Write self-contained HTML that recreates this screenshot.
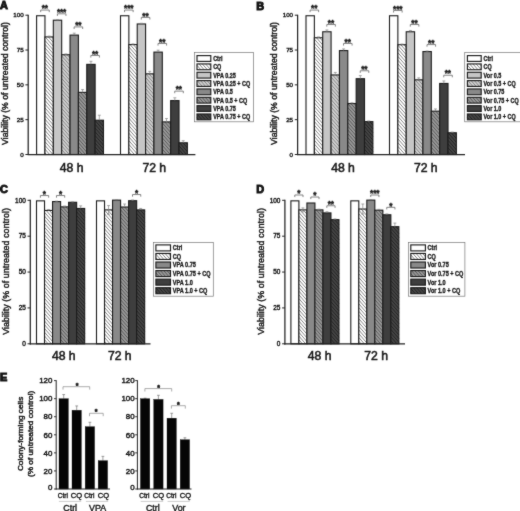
<!DOCTYPE html>
<html lang="en"><head><meta charset="utf-8"><title>Figure</title>
<style>html,body{margin:0;padding:0;background:#fff;}svg{display:block;font-family:'Liberation Sans', Arial, sans-serif;fill:#1a1a1a;}</style></head><body>
<svg width="520" height="511" viewBox="0 0 520 511">
<defs>
<filter id="soft" x="0" y="0" width="100%" height="100%" filterUnits="userSpaceOnUse" color-interpolation-filters="sRGB"><feConvolveMatrix order="3" kernelMatrix="1 3 1 3 30 3 1 3 1" divisor="46" edgeMode="duplicate" preserveAlpha="true"/></filter>
</defs>
<g filter="url(#soft)">
<rect x="-5" y="-5" width="530" height="521" fill="#fff" stroke="none"/>
<rect x="36.6" y="15.75" width="8.36" height="138.75" fill="#ffffff" stroke="none" stroke-width="0"/>
<rect x="36.6" y="15.75" width="8.36" height="138.75" fill="none" stroke="#1c1c1c" stroke-width="1.1"/>
<rect x="44.96" y="36.92" width="8.36" height="117.58" fill="#ffffff" stroke="none" stroke-width="0"/>
<path d="M44.96 152.85L46.39 154.5M44.96 149.1L49.66 154.5M44.96 145.36L52.91 154.5M44.96 141.61L53.32 151.22M44.96 137.86L53.32 147.47M44.96 134.11L53.32 143.72M44.96 130.37L53.32 139.98M44.96 126.62L53.32 136.23M44.96 122.87L53.32 132.48M44.96 119.13L53.32 128.74M44.96 115.38L53.32 124.99M44.96 111.63L53.32 121.24M44.96 107.89L53.32 117.49M44.96 104.14L53.32 113.75M44.96 100.39L53.32 110M44.96 96.64L53.32 106.25M44.96 92.9L53.32 102.51M44.96 89.15L53.32 98.76M44.96 85.4L53.32 95.01M44.96 81.66L53.32 91.26M44.96 77.91L53.32 87.52M44.96 74.16L53.32 83.77M44.96 70.41L53.32 80.02M44.96 66.67L53.32 76.28M44.96 62.92L53.32 72.53M44.96 59.17L53.32 68.78M44.96 55.43L53.32 65.03M44.96 51.68L53.32 61.29M44.96 47.93L53.32 57.54M44.96 44.18L53.32 53.79M44.96 40.44L53.32 50.05M45.16 36.92L53.32 46.3M48.42 36.92L53.32 42.55M51.68 36.92L53.32 38.8" fill="none" stroke="#8a8a8a" stroke-width="1"/>
<rect x="44.96" y="36.92" width="8.36" height="117.58" fill="none" stroke="#1c1c1c" stroke-width="1.1"/>
<line x1="49.14" y1="36.92" x2="49.14" y2="36.09" stroke="#858585" stroke-width="0.7"/>
<line x1="47.64" y1="36.09" x2="50.64" y2="36.09" stroke="#858585" stroke-width="0.7"/>
<rect x="53.32" y="20.21" width="8.36" height="134.29" fill="#c6c6c6" stroke="none" stroke-width="0"/>
<rect x="53.32" y="20.21" width="8.36" height="134.29" fill="none" stroke="#1c1c1c" stroke-width="1.1"/>
<line x1="57.5" y1="20.21" x2="57.5" y2="19.79" stroke="#858585" stroke-width="0.7"/>
<line x1="56" y1="19.79" x2="59" y2="19.79" stroke="#858585" stroke-width="0.7"/>
<rect x="61.68" y="54.75" width="8.36" height="99.75" fill="#cecece" stroke="none" stroke-width="0"/>
<path d="M61.68 153.33L62.69 154.5M61.68 149.59L65.95 154.5M61.68 145.84L69.22 154.5M61.68 142.09L70.04 151.7M61.68 138.34L70.04 147.95M61.68 134.6L70.04 144.21M61.68 130.85L70.04 140.46M61.68 127.1L70.04 136.71M61.68 123.36L70.04 132.97M61.68 119.61L70.04 129.22M61.68 115.86L70.04 125.47M61.68 112.11L70.04 121.72M61.68 108.37L70.04 117.98M61.68 104.62L70.04 114.23M61.68 100.87L70.04 110.48M61.68 97.13L70.04 106.74M61.68 93.38L70.04 102.99M61.68 89.63L70.04 99.24M61.68 85.89L70.04 95.49M61.68 82.14L70.04 91.75M61.68 78.39L70.04 88M61.68 74.64L70.04 84.25M61.68 70.9L70.04 80.51M61.68 67.15L70.04 76.76M61.68 63.4L70.04 73.01M61.68 59.66L70.04 69.26M61.68 55.91L70.04 65.52M63.94 54.75L70.04 61.77M67.2 54.75L70.04 58.02" fill="none" stroke="#8a8a8a" stroke-width="1"/>
<rect x="61.68" y="54.75" width="8.36" height="99.75" fill="none" stroke="#1c1c1c" stroke-width="1.1"/>
<line x1="65.86" y1="54.75" x2="65.86" y2="53.92" stroke="#858585" stroke-width="0.7"/>
<line x1="64.36" y1="53.92" x2="67.36" y2="53.92" stroke="#858585" stroke-width="0.7"/>
<rect x="70.04" y="35.11" width="8.36" height="119.39" fill="#898989" stroke="none" stroke-width="0"/>
<rect x="70.04" y="35.11" width="8.36" height="119.39" fill="none" stroke="#1c1c1c" stroke-width="1.1"/>
<line x1="74.22" y1="35.11" x2="74.22" y2="33.16" stroke="#858585" stroke-width="0.7"/>
<line x1="72.72" y1="33.16" x2="75.72" y2="33.16" stroke="#858585" stroke-width="0.7"/>
<rect x="78.4" y="92.36" width="8.36" height="62.14" fill="#969696" stroke="none" stroke-width="0"/>
<path d="M78.4 153.82L79 154.5M78.4 150.07L82.25 154.5M78.4 146.32L85.51 154.5M78.4 142.57L86.76 152.18M78.4 138.83L86.76 148.44M78.4 135.08L86.76 144.69M78.4 131.33L86.76 140.94M78.4 127.59L86.76 137.2M78.4 123.84L86.76 133.45M78.4 120.09L86.76 129.7M78.4 116.34L86.76 125.95M78.4 112.6L86.76 122.21M78.4 108.85L86.76 118.46M78.4 105.1L86.76 114.71M78.4 101.36L86.76 110.97M78.4 97.61L86.76 107.22M78.4 93.86L86.76 103.47M80.36 92.36L86.76 99.72M83.62 92.36L86.76 95.98" fill="none" stroke="#5e5e5e" stroke-width="1"/>
<rect x="78.4" y="92.36" width="8.36" height="62.14" fill="none" stroke="#1c1c1c" stroke-width="1.1"/>
<line x1="82.58" y1="92.36" x2="82.58" y2="89.58" stroke="#858585" stroke-width="0.7"/>
<line x1="81.08" y1="89.58" x2="84.08" y2="89.58" stroke="#858585" stroke-width="0.7"/>
<rect x="86.76" y="64.37" width="8.36" height="90.13" fill="#3e3e3e" stroke="none" stroke-width="0"/>
<rect x="86.76" y="64.37" width="8.36" height="90.13" fill="none" stroke="#1c1c1c" stroke-width="1.1"/>
<line x1="90.94" y1="64.37" x2="90.94" y2="61.3" stroke="#858585" stroke-width="0.7"/>
<line x1="89.44" y1="61.3" x2="92.44" y2="61.3" stroke="#858585" stroke-width="0.7"/>
<rect x="95.12" y="120.22" width="8.36" height="34.28" fill="#444444" stroke="none" stroke-width="0"/>
<path d="M95.12 154.3L95.29 154.5M95.12 150.55L98.55 154.5M95.12 146.8L101.81 154.5M95.12 143.06L103.48 152.67M95.12 139.31L103.48 148.92M95.12 135.56L103.48 145.17M95.12 131.82L103.48 141.43M95.12 128.07L103.48 137.68M95.12 124.32L103.48 133.93M95.12 120.57L103.48 130.18M98.08 120.22L103.48 126.44M101.34 120.22L103.48 122.69" fill="none" stroke="#262626" stroke-width="1"/>
<rect x="95.12" y="120.22" width="8.36" height="34.28" fill="none" stroke="#1c1c1c" stroke-width="1.1"/>
<line x1="99.3" y1="120.22" x2="99.3" y2="115.21" stroke="#858585" stroke-width="0.7"/>
<line x1="97.8" y1="115.21" x2="100.8" y2="115.21" stroke="#858585" stroke-width="0.7"/>
<rect x="120.5" y="15.75" width="8.36" height="138.75" fill="#ffffff" stroke="none" stroke-width="0"/>
<rect x="120.5" y="15.75" width="8.36" height="138.75" fill="none" stroke="#1c1c1c" stroke-width="1.1"/>
<rect x="128.86" y="44.59" width="8.36" height="109.91" fill="#ffffff" stroke="none" stroke-width="0"/>
<path d="M128.86 151.86L131.16 154.5M128.86 148.11L134.41 154.5M128.86 144.37L137.22 153.98M128.86 140.62L137.22 150.23M128.86 136.87L137.22 146.48M128.86 133.13L137.22 142.74M128.86 129.38L137.22 138.99M128.86 125.63L137.22 135.24M128.86 121.89L137.22 131.49M128.86 118.14L137.22 127.75M128.86 114.39L137.22 124M128.86 110.64L137.22 120.25M128.86 106.9L137.22 116.51M128.86 103.15L137.22 112.76M128.86 99.4L137.22 109.01M128.86 95.66L137.22 105.26M128.86 91.91L137.22 101.52M128.86 88.16L137.22 97.77M128.86 84.41L137.22 94.02M128.86 80.67L137.22 90.28M128.86 76.92L137.22 86.53M128.86 73.17L137.22 82.78M128.86 69.43L137.22 79.03M128.86 65.68L137.22 75.29M128.86 61.93L137.22 71.54M128.86 58.18L137.22 67.79M128.86 54.44L137.22 64.05M128.86 50.69L137.22 60.3M128.86 46.94L137.22 56.55M130.07 44.59L137.22 52.8M133.33 44.59L137.22 49.06M136.59 44.59L137.22 45.31" fill="none" stroke="#8a8a8a" stroke-width="1"/>
<rect x="128.86" y="44.59" width="8.36" height="109.91" fill="none" stroke="#1c1c1c" stroke-width="1.1"/>
<line x1="133.04" y1="44.59" x2="133.04" y2="43.89" stroke="#858585" stroke-width="0.7"/>
<line x1="131.54" y1="43.89" x2="134.54" y2="43.89" stroke="#858585" stroke-width="0.7"/>
<rect x="137.22" y="23.97" width="8.36" height="130.53" fill="#c6c6c6" stroke="none" stroke-width="0"/>
<rect x="137.22" y="23.97" width="8.36" height="130.53" fill="none" stroke="#1c1c1c" stroke-width="1.1"/>
<line x1="141.4" y1="23.97" x2="141.4" y2="23.27" stroke="#858585" stroke-width="0.7"/>
<line x1="139.9" y1="23.27" x2="142.9" y2="23.27" stroke="#858585" stroke-width="0.7"/>
<rect x="145.58" y="73.84" width="8.36" height="80.66" fill="#cecece" stroke="none" stroke-width="0"/>
<path d="M145.58 152.34L147.45 154.5M145.58 148.6L150.71 154.5M145.58 144.85L153.94 154.46M145.58 141.1L153.94 150.71M145.58 137.36L153.94 146.97M145.58 133.61L153.94 143.22M145.58 129.86L153.94 139.47M145.58 126.11L153.94 135.72M145.58 122.37L153.94 131.98M145.58 118.62L153.94 128.23M145.58 114.87L153.94 124.48M145.58 111.13L153.94 120.74M145.58 107.38L153.94 116.99M145.58 103.63L153.94 113.24M145.58 99.89L153.94 109.49M145.58 96.14L153.94 105.75M145.58 92.39L153.94 102M145.58 88.64L153.94 98.25M145.58 84.9L153.94 94.51M145.58 81.15L153.94 90.76M145.58 77.4L153.94 87.01M145.74 73.84L153.94 83.26M149 73.84L153.94 79.52M152.26 73.84L153.94 75.77" fill="none" stroke="#8a8a8a" stroke-width="1"/>
<rect x="145.58" y="73.84" width="8.36" height="80.66" fill="none" stroke="#1c1c1c" stroke-width="1.1"/>
<line x1="149.76" y1="73.84" x2="149.76" y2="71.33" stroke="#858585" stroke-width="0.7"/>
<line x1="148.26" y1="71.33" x2="151.26" y2="71.33" stroke="#858585" stroke-width="0.7"/>
<rect x="153.94" y="52.11" width="8.36" height="102.39" fill="#898989" stroke="none" stroke-width="0"/>
<rect x="153.94" y="52.11" width="8.36" height="102.39" fill="none" stroke="#1c1c1c" stroke-width="1.1"/>
<line x1="158.12" y1="52.11" x2="158.12" y2="50.16" stroke="#858585" stroke-width="0.7"/>
<line x1="156.62" y1="50.16" x2="159.62" y2="50.16" stroke="#858585" stroke-width="0.7"/>
<rect x="162.3" y="121.9" width="8.36" height="32.6" fill="#969696" stroke="none" stroke-width="0"/>
<path d="M162.3 152.83L163.75 154.5M162.3 149.08L167.01 154.5M162.3 145.33L170.27 154.5M162.3 141.59L170.66 151.2M162.3 137.84L170.66 147.45M162.3 134.09L170.66 143.7M162.3 130.34L170.66 139.95M162.3 126.6L170.66 136.21M162.3 122.85L170.66 132.46M164.73 121.9L170.66 128.71M167.99 121.9L170.66 124.97" fill="none" stroke="#5e5e5e" stroke-width="1"/>
<rect x="162.3" y="121.9" width="8.36" height="32.6" fill="none" stroke="#1c1c1c" stroke-width="1.1"/>
<line x1="166.48" y1="121.9" x2="166.48" y2="118.55" stroke="#858585" stroke-width="0.7"/>
<line x1="164.98" y1="118.55" x2="167.98" y2="118.55" stroke="#858585" stroke-width="0.7"/>
<rect x="170.66" y="100.58" width="8.36" height="53.92" fill="#3e3e3e" stroke="none" stroke-width="0"/>
<rect x="170.66" y="100.58" width="8.36" height="53.92" fill="none" stroke="#1c1c1c" stroke-width="1.1"/>
<line x1="174.84" y1="100.58" x2="174.84" y2="97.8" stroke="#858585" stroke-width="0.7"/>
<line x1="173.34" y1="97.8" x2="176.34" y2="97.8" stroke="#858585" stroke-width="0.7"/>
<rect x="179.02" y="142.79" width="8.36" height="11.71" fill="#444444" stroke="none" stroke-width="0"/>
<path d="M179.02 153.31L180.06 154.5M179.02 149.56L183.31 154.5M179.02 145.82L186.57 154.5M179.65 142.79L187.38 151.68M182.91 142.79L187.38 147.93M186.17 142.79L187.38 144.18" fill="none" stroke="#262626" stroke-width="1"/>
<rect x="179.02" y="142.79" width="8.36" height="11.71" fill="none" stroke="#1c1c1c" stroke-width="1.1"/>
<line x1="183.2" y1="142.79" x2="183.2" y2="140.7" stroke="#858585" stroke-width="0.7"/>
<line x1="181.7" y1="140.7" x2="184.7" y2="140.7" stroke="#858585" stroke-width="0.7"/>
<line x1="28.2" y1="14.75" x2="28.2" y2="155.1" stroke="#222" stroke-width="1.25"/>
<line x1="27.6" y1="154.5" x2="195.4" y2="154.5" stroke="#222" stroke-width="1.25"/>
<line x1="25.4" y1="154.5" x2="28.2" y2="154.5" stroke="#222" stroke-width="1"/>
<text x="23.7" y="156.7" font-size="6.25" text-anchor="end" font-weight="normal" stroke="#1a1a1a" stroke-width="0.4">0</text>
<line x1="25.4" y1="119.67" x2="28.2" y2="119.67" stroke="#222" stroke-width="1"/>
<text x="23.7" y="121.88" font-size="6.25" text-anchor="end" font-weight="normal" stroke="#1a1a1a" stroke-width="0.4">25</text>
<line x1="25.4" y1="84.85" x2="28.2" y2="84.85" stroke="#222" stroke-width="1"/>
<text x="23.7" y="87.05" font-size="6.25" text-anchor="end" font-weight="normal" stroke="#1a1a1a" stroke-width="0.4">50</text>
<line x1="25.4" y1="50.03" x2="28.2" y2="50.03" stroke="#222" stroke-width="1"/>
<text x="23.7" y="52.23" font-size="6.25" text-anchor="end" font-weight="normal" stroke="#1a1a1a" stroke-width="0.4">75</text>
<line x1="25.4" y1="15.2" x2="28.2" y2="15.2" stroke="#222" stroke-width="1"/>
<text x="23.7" y="17.4" font-size="6.25" text-anchor="end" font-weight="normal" stroke="#1a1a1a" stroke-width="0.4">100</text>
<text x="71.6" y="171.5" font-size="12.2" text-anchor="middle" font-weight="normal" stroke="#1a1a1a" stroke-width="0.55">48 h</text>
<text x="154.3" y="171.5" font-size="12.2" text-anchor="middle" font-weight="normal" stroke="#1a1a1a" stroke-width="0.55">72 h</text>
<text transform="translate(8 83.5) rotate(-90) scale(1.06 1)" font-size="8.2" text-anchor="middle" stroke="#1a1a1a" stroke-width="0.42">Viability (% of untreated control)</text>
<text transform="translate(0 8.9) scale(1.08 1)" font-size="10.1" font-weight="bold" stroke="#111" stroke-width="0.9">A</text>
<path d="M40.68 12.15 V10.05 H49.24 V12.15" fill="none" stroke="#666" stroke-width="0.8"/>
<text x="44.81" y="11.25" font-size="8.2" text-anchor="middle" font-weight="bold" stroke="#1a1a1a" stroke-width="0.4" letter-spacing="-0.1">**</text>
<path d="M57.4 15.91 V13.81 H65.96 V15.91" fill="none" stroke="#666" stroke-width="0.8"/>
<text x="61.53" y="15.01" font-size="8.2" text-anchor="middle" font-weight="bold" stroke="#1a1a1a" stroke-width="0.4" letter-spacing="-0.1">***</text>
<path d="M74.12 29 V26.9 H82.68 V29" fill="none" stroke="#666" stroke-width="0.8"/>
<text x="78.25" y="28.1" font-size="8.2" text-anchor="middle" font-weight="bold" stroke="#1a1a1a" stroke-width="0.4" letter-spacing="-0.1">**</text>
<path d="M90.84 57.56 V55.46 H99.4 V57.56" fill="none" stroke="#666" stroke-width="0.8"/>
<text x="94.97" y="56.66" font-size="8.2" text-anchor="middle" font-weight="bold" stroke="#1a1a1a" stroke-width="0.4" letter-spacing="-0.1">**</text>
<path d="M124.58 12.15 V10.05 H133.14 V12.15" fill="none" stroke="#666" stroke-width="0.8"/>
<text x="128.71" y="11.25" font-size="8.2" text-anchor="middle" font-weight="bold" stroke="#1a1a1a" stroke-width="0.4" letter-spacing="-0.1">***</text>
<path d="M141.3 19.53 V17.43 H149.86 V19.53" fill="none" stroke="#666" stroke-width="0.8"/>
<text x="145.43" y="18.63" font-size="8.2" text-anchor="middle" font-weight="bold" stroke="#1a1a1a" stroke-width="0.4" letter-spacing="-0.1">**</text>
<path d="M158.02 45.58 V43.48 H166.58 V45.58" fill="none" stroke="#666" stroke-width="0.8"/>
<text x="162.15" y="44.68" font-size="8.2" text-anchor="middle" font-weight="bold" stroke="#1a1a1a" stroke-width="0.4" letter-spacing="-0.1">**</text>
<path d="M174.74 93.22 V91.12 H183.3 V93.22" fill="none" stroke="#666" stroke-width="0.8"/>
<text x="178.87" y="92.32" font-size="8.2" text-anchor="middle" font-weight="bold" stroke="#1a1a1a" stroke-width="0.4" letter-spacing="-0.1">**</text>
<rect x="194.4" y="52.4" width="59" height="69.4" fill="#fff" stroke="#777" stroke-width="0.7"/>
<rect x="197" y="55.6" width="13.8" height="5.8" fill="#ffffff" stroke="none" stroke-width="0"/>
<rect x="197" y="55.6" width="13.8" height="5.8" fill="none" stroke="#1c1c1c" stroke-width="1.15"/>
<text transform="translate(213.2 60.9) scale(0.8 1)" font-size="6.8" font-weight="bold" stroke="#1a1a1a" stroke-width="0.35">Ctrl</text>
<rect x="197" y="63.94" width="13.8" height="5.8" fill="#ffffff" stroke="none" stroke-width="0"/>
<path d="M197 69.06L197.59 69.74M197 65.31L200.85 69.74M199.07 63.94L204.11 69.74M202.33 63.94L207.37 69.74M205.59 63.94L210.63 69.74M208.85 63.94L210.8 66.18" fill="none" stroke="#8a8a8a" stroke-width="1"/>
<rect x="197" y="63.94" width="13.8" height="5.8" fill="none" stroke="#1c1c1c" stroke-width="1.15"/>
<text transform="translate(213.2 69.24) scale(0.8 1)" font-size="6.8" font-weight="bold" stroke="#1a1a1a" stroke-width="0.35">CQ</text>
<rect x="197" y="72.28" width="13.8" height="5.8" fill="#c6c6c6" stroke="none" stroke-width="0"/>
<rect x="197" y="72.28" width="13.8" height="5.8" fill="none" stroke="#1c1c1c" stroke-width="1.15"/>
<text transform="translate(213.2 77.58) scale(0.8 1)" font-size="6.8" font-weight="bold" stroke="#1a1a1a" stroke-width="0.35">VPA 0.25</text>
<rect x="197" y="80.62" width="13.8" height="5.8" fill="#cecece" stroke="none" stroke-width="0"/>
<path d="M197 84.05L199.07 86.42M197.28 80.62L202.33 86.42M200.54 80.62L205.59 86.42M203.8 80.62L208.85 86.42M207.06 80.62L210.8 84.92M210.32 80.62L210.8 81.17" fill="none" stroke="#8a8a8a" stroke-width="1"/>
<rect x="197" y="80.62" width="13.8" height="5.8" fill="none" stroke="#1c1c1c" stroke-width="1.15"/>
<text transform="translate(213.2 85.92) scale(0.8 1)" font-size="6.8" font-weight="bold" stroke="#1a1a1a" stroke-width="0.35">VPA 0.25 + CQ</text>
<rect x="197" y="88.96" width="13.8" height="5.8" fill="#898989" stroke="none" stroke-width="0"/>
<rect x="197" y="88.96" width="13.8" height="5.8" fill="none" stroke="#1c1c1c" stroke-width="1.15"/>
<text transform="translate(213.2 94.26) scale(0.8 1)" font-size="6.8" font-weight="bold" stroke="#1a1a1a" stroke-width="0.35">VPA 0.5</text>
<rect x="197" y="97.3" width="13.8" height="5.8" fill="#969696" stroke="none" stroke-width="0"/>
<path d="M197 102.78L197.28 103.1M197 99.03L200.54 103.1M198.75 97.3L203.8 103.1M202.01 97.3L207.06 103.1M205.27 97.3L210.32 103.1M208.53 97.3L210.8 99.91" fill="none" stroke="#5e5e5e" stroke-width="1"/>
<rect x="197" y="97.3" width="13.8" height="5.8" fill="none" stroke="#1c1c1c" stroke-width="1.15"/>
<text transform="translate(213.2 102.6) scale(0.8 1)" font-size="6.8" font-weight="bold" stroke="#1a1a1a" stroke-width="0.35">VPA 0.5 + CQ</text>
<rect x="197" y="105.64" width="13.8" height="5.8" fill="#3e3e3e" stroke="none" stroke-width="0"/>
<rect x="197" y="105.64" width="13.8" height="5.8" fill="none" stroke="#1c1c1c" stroke-width="1.15"/>
<text transform="translate(213.2 110.94) scale(0.8 1)" font-size="6.8" font-weight="bold" stroke="#1a1a1a" stroke-width="0.35">VPA 0.75</text>
<rect x="197" y="113.98" width="13.8" height="5.8" fill="#444444" stroke="none" stroke-width="0"/>
<path d="M197 117.77L198.75 119.78M197 114.02L202.01 119.78M200.22 113.98L205.27 119.78M203.48 113.98L208.53 119.78M206.74 113.98L210.8 118.64M210 113.98L210.8 114.9" fill="none" stroke="#262626" stroke-width="1"/>
<rect x="197" y="113.98" width="13.8" height="5.8" fill="none" stroke="#1c1c1c" stroke-width="1.15"/>
<text transform="translate(213.2 119.28) scale(0.8 1)" font-size="6.8" font-weight="bold" stroke="#1a1a1a" stroke-width="0.35">VPA 0.75 + CQ</text>
<rect x="306" y="15.75" width="8.36" height="138.75" fill="#ffffff" stroke="none" stroke-width="0"/>
<rect x="306" y="15.75" width="8.36" height="138.75" fill="none" stroke="#1c1c1c" stroke-width="1.1"/>
<rect x="314.36" y="37.76" width="8.36" height="116.74" fill="#ffffff" stroke="none" stroke-width="0"/>
<path d="M314.36 151.49L316.98 154.5M314.36 147.75L320.24 154.5M314.36 144L322.72 153.61M314.36 140.25L322.72 149.86M314.36 136.51L322.72 146.11M314.36 132.76L322.72 142.37M314.36 129.01L322.72 138.62M314.36 125.26L322.72 134.87M314.36 121.52L322.72 131.13M314.36 117.77L322.72 127.38M314.36 114.02L322.72 123.63M314.36 110.28L322.72 119.89M314.36 106.53L322.72 116.14M314.36 102.78L322.72 112.39M314.36 99.03L322.72 108.64M314.36 95.29L322.72 104.9M314.36 91.54L322.72 101.15M314.36 87.79L322.72 97.4M314.36 84.05L322.72 93.66M314.36 80.3L322.72 89.91M314.36 76.55L322.72 86.16M314.36 72.8L322.72 82.41M314.36 69.06L322.72 78.67M314.36 65.31L322.72 74.92M314.36 61.56L322.72 71.17M314.36 57.82L322.72 67.43M314.36 54.07L322.72 63.68M314.36 50.32L322.72 59.93M314.36 46.57L322.72 56.18M314.36 42.83L322.72 52.44M314.36 39.08L322.72 48.69M316.47 37.76L322.72 44.94M319.73 37.76L322.72 41.2" fill="none" stroke="#8a8a8a" stroke-width="1"/>
<rect x="314.36" y="37.76" width="8.36" height="116.74" fill="none" stroke="#1c1c1c" stroke-width="1.1"/>
<line x1="318.54" y1="37.76" x2="318.54" y2="36.92" stroke="#858585" stroke-width="0.7"/>
<line x1="317.04" y1="36.92" x2="320.04" y2="36.92" stroke="#858585" stroke-width="0.7"/>
<rect x="322.72" y="31.77" width="8.36" height="122.73" fill="#c6c6c6" stroke="none" stroke-width="0"/>
<rect x="322.72" y="31.77" width="8.36" height="122.73" fill="none" stroke="#1c1c1c" stroke-width="1.1"/>
<line x1="326.9" y1="31.77" x2="326.9" y2="29.96" stroke="#858585" stroke-width="0.7"/>
<line x1="325.4" y1="29.96" x2="328.4" y2="29.96" stroke="#858585" stroke-width="0.7"/>
<rect x="331.08" y="74.95" width="8.36" height="79.55" fill="#cecece" stroke="none" stroke-width="0"/>
<path d="M331.08 151.98L333.27 154.5M331.08 148.23L336.53 154.5M331.08 144.48L339.44 154.09M331.08 140.74L339.44 150.34M331.08 136.99L339.44 146.6M331.08 133.24L339.44 142.85M331.08 129.49L339.44 139.1M331.08 125.75L339.44 135.36M331.08 122L339.44 131.61M331.08 118.25L339.44 127.86M331.08 114.51L339.44 124.11M331.08 110.76L339.44 120.37M331.08 107.01L339.44 116.62M331.08 103.26L339.44 112.87M331.08 99.52L339.44 109.13M331.08 95.77L339.44 105.38M331.08 92.02L339.44 101.63M331.08 88.28L339.44 97.89M331.08 84.53L339.44 94.14M331.08 80.78L339.44 90.39M331.08 77.03L339.44 86.64M332.53 74.95L339.44 82.9M335.79 74.95L339.44 79.15M339.05 74.95L339.44 75.4" fill="none" stroke="#8a8a8a" stroke-width="1"/>
<rect x="331.08" y="74.95" width="8.36" height="79.55" fill="none" stroke="#1c1c1c" stroke-width="1.1"/>
<line x1="335.26" y1="74.95" x2="335.26" y2="72.45" stroke="#858585" stroke-width="0.7"/>
<line x1="333.76" y1="72.45" x2="336.76" y2="72.45" stroke="#858585" stroke-width="0.7"/>
<rect x="339.44" y="50.58" width="8.36" height="103.92" fill="#898989" stroke="none" stroke-width="0"/>
<rect x="339.44" y="50.58" width="8.36" height="103.92" fill="none" stroke="#1c1c1c" stroke-width="1.1"/>
<line x1="343.62" y1="50.58" x2="343.62" y2="48.9" stroke="#858585" stroke-width="0.7"/>
<line x1="342.12" y1="48.9" x2="345.12" y2="48.9" stroke="#858585" stroke-width="0.7"/>
<rect x="347.8" y="103.51" width="8.36" height="50.99" fill="#969696" stroke="none" stroke-width="0"/>
<path d="M347.8 152.46L349.57 154.5M347.8 148.71L352.83 154.5M347.8 144.97L356.09 154.5M347.8 141.22L356.16 150.83M347.8 137.47L356.16 147.08M347.8 133.72L356.16 143.33M347.8 129.98L356.16 139.59M347.8 126.23L356.16 135.84M347.8 122.48L356.16 132.09M347.8 118.74L356.16 128.34M347.8 114.99L356.16 124.6M347.8 111.24L356.16 120.85M347.8 107.49L356.16 117.1M347.8 103.75L356.16 113.36M350.85 103.51L356.16 109.61M354.11 103.51L356.16 105.86" fill="none" stroke="#5e5e5e" stroke-width="1"/>
<rect x="347.8" y="103.51" width="8.36" height="50.99" fill="none" stroke="#1c1c1c" stroke-width="1.1"/>
<line x1="351.98" y1="103.51" x2="351.98" y2="102.81" stroke="#858585" stroke-width="0.7"/>
<line x1="350.48" y1="102.81" x2="353.48" y2="102.81" stroke="#858585" stroke-width="0.7"/>
<rect x="356.16" y="78.71" width="8.36" height="75.79" fill="#3e3e3e" stroke="none" stroke-width="0"/>
<rect x="356.16" y="78.71" width="8.36" height="75.79" fill="none" stroke="#1c1c1c" stroke-width="1.1"/>
<line x1="360.34" y1="78.71" x2="360.34" y2="75.65" stroke="#858585" stroke-width="0.7"/>
<line x1="358.84" y1="75.65" x2="361.84" y2="75.65" stroke="#858585" stroke-width="0.7"/>
<rect x="364.52" y="121.62" width="8.36" height="32.88" fill="#444444" stroke="none" stroke-width="0"/>
<path d="M364.52 152.94L365.88 154.5M364.52 149.2L369.13 154.5M364.52 145.45L372.39 154.5M364.52 141.7L372.88 151.31M364.52 137.95L372.88 147.56M364.52 134.21L372.88 143.82M364.52 130.46L372.88 140.07M364.52 126.71L372.88 136.32M364.52 122.97L372.88 132.57M366.61 121.62L372.88 128.83M369.87 121.62L372.88 125.08" fill="none" stroke="#262626" stroke-width="1"/>
<rect x="364.52" y="121.62" width="8.36" height="32.88" fill="none" stroke="#1c1c1c" stroke-width="1.1"/>
<line x1="368.7" y1="121.62" x2="368.7" y2="120.92" stroke="#858585" stroke-width="0.7"/>
<line x1="367.2" y1="120.92" x2="370.2" y2="120.92" stroke="#858585" stroke-width="0.7"/>
<rect x="389.5" y="15.75" width="8.36" height="138.75" fill="#ffffff" stroke="none" stroke-width="0"/>
<rect x="389.5" y="15.75" width="8.36" height="138.75" fill="none" stroke="#1c1c1c" stroke-width="1.1"/>
<rect x="397.86" y="44.72" width="8.36" height="109.78" fill="#ffffff" stroke="none" stroke-width="0"/>
<path d="M397.86 153.79L398.48 154.5M397.86 150.05L401.74 154.5M397.86 146.3L405 154.5M397.86 142.55L406.22 152.16M397.86 138.8L406.22 148.41M397.86 135.06L406.22 144.67M397.86 131.31L406.22 140.92M397.86 127.56L406.22 137.17M397.86 123.82L406.22 133.43M397.86 120.07L406.22 129.68M397.86 116.32L406.22 125.93M397.86 112.57L406.22 122.18M397.86 108.83L406.22 118.44M397.86 105.08L406.22 114.69M397.86 101.33L406.22 110.94M397.86 97.59L406.22 107.2M397.86 93.84L406.22 103.45M397.86 90.09L406.22 99.7M397.86 86.34L406.22 95.95M397.86 82.6L406.22 92.21M397.86 78.85L406.22 88.46M397.86 75.1L406.22 84.71M397.86 71.36L406.22 80.97M397.86 67.61L406.22 77.22M397.86 63.86L406.22 73.47M397.86 60.11L406.22 69.72M397.86 56.37L406.22 65.98M397.86 52.62L406.22 62.23M397.86 48.87L406.22 58.48M397.86 45.13L406.22 54.74M400.77 44.72L406.22 50.99M404.03 44.72L406.22 47.24" fill="none" stroke="#8a8a8a" stroke-width="1"/>
<rect x="397.86" y="44.72" width="8.36" height="109.78" fill="none" stroke="#1c1c1c" stroke-width="1.1"/>
<line x1="402.04" y1="44.72" x2="402.04" y2="44.03" stroke="#858585" stroke-width="0.7"/>
<line x1="400.54" y1="44.03" x2="403.54" y2="44.03" stroke="#858585" stroke-width="0.7"/>
<rect x="406.22" y="31.77" width="8.36" height="122.73" fill="#c6c6c6" stroke="none" stroke-width="0"/>
<rect x="406.22" y="31.77" width="8.36" height="122.73" fill="none" stroke="#1c1c1c" stroke-width="1.1"/>
<line x1="410.4" y1="31.77" x2="410.4" y2="30.52" stroke="#858585" stroke-width="0.7"/>
<line x1="408.9" y1="30.52" x2="411.9" y2="30.52" stroke="#858585" stroke-width="0.7"/>
<rect x="414.58" y="79.83" width="8.36" height="74.67" fill="#cecece" stroke="none" stroke-width="0"/>
<path d="M414.58 154.28L414.77 154.5M414.58 150.53L418.03 154.5M414.58 146.78L421.29 154.5M414.58 143.03L422.94 152.64M414.58 139.29L422.94 148.9M414.58 135.54L422.94 145.15M414.58 131.79L422.94 141.4M414.58 128.05L422.94 137.66M414.58 124.3L422.94 133.91M414.58 120.55L422.94 130.16M414.58 116.8L422.94 126.41M414.58 113.06L422.94 122.67M414.58 109.31L422.94 118.92M414.58 105.56L422.94 115.17M414.58 101.82L422.94 111.43M414.58 98.07L422.94 107.68M414.58 94.32L422.94 103.93M414.58 90.57L422.94 100.18M414.58 86.83L422.94 96.44M414.58 83.08L422.94 92.69M415.01 79.83L422.94 88.94M418.27 79.83L422.94 85.2M421.53 79.83L422.94 81.45" fill="none" stroke="#8a8a8a" stroke-width="1"/>
<rect x="414.58" y="79.83" width="8.36" height="74.67" fill="none" stroke="#1c1c1c" stroke-width="1.1"/>
<line x1="418.76" y1="79.83" x2="418.76" y2="77.88" stroke="#858585" stroke-width="0.7"/>
<line x1="417.26" y1="77.88" x2="420.26" y2="77.88" stroke="#858585" stroke-width="0.7"/>
<rect x="422.94" y="51.55" width="8.36" height="102.95" fill="#898989" stroke="none" stroke-width="0"/>
<rect x="422.94" y="51.55" width="8.36" height="102.95" fill="none" stroke="#1c1c1c" stroke-width="1.1"/>
<line x1="427.12" y1="51.55" x2="427.12" y2="50.99" stroke="#858585" stroke-width="0.7"/>
<line x1="425.62" y1="50.99" x2="428.62" y2="50.99" stroke="#858585" stroke-width="0.7"/>
<rect x="431.3" y="111.17" width="8.36" height="43.33" fill="#969696" stroke="none" stroke-width="0"/>
<path d="M431.3 151.01L434.33 154.5M431.3 147.26L437.6 154.5M431.3 143.52L439.66 153.13M431.3 139.77L439.66 149.38M431.3 136.02L439.66 145.63M431.3 132.28L439.66 141.89M431.3 128.53L439.66 138.14M431.3 124.78L439.66 134.39M431.3 121.03L439.66 130.64M431.3 117.29L439.66 126.9M431.3 113.54L439.66 123.15M432.5 111.17L439.66 119.4M435.76 111.17L439.66 115.66M439.02 111.17L439.66 111.91" fill="none" stroke="#5e5e5e" stroke-width="1"/>
<rect x="431.3" y="111.17" width="8.36" height="43.33" fill="none" stroke="#1c1c1c" stroke-width="1.1"/>
<line x1="435.48" y1="111.17" x2="435.48" y2="108.94" stroke="#858585" stroke-width="0.7"/>
<line x1="433.98" y1="108.94" x2="436.98" y2="108.94" stroke="#858585" stroke-width="0.7"/>
<rect x="439.66" y="83.45" width="8.36" height="71.05" fill="#3e3e3e" stroke="none" stroke-width="0"/>
<rect x="439.66" y="83.45" width="8.36" height="71.05" fill="none" stroke="#1c1c1c" stroke-width="1.1"/>
<line x1="443.84" y1="83.45" x2="443.84" y2="80.94" stroke="#858585" stroke-width="0.7"/>
<line x1="442.34" y1="80.94" x2="445.34" y2="80.94" stroke="#858585" stroke-width="0.7"/>
<rect x="448.02" y="132.76" width="8.36" height="21.74" fill="#444444" stroke="none" stroke-width="0"/>
<path d="M448.02 151.49L450.63 154.5M448.02 147.75L453.89 154.5M448.02 144L456.38 153.61M448.02 140.25L456.38 149.86M448.02 136.51L456.38 146.11M448.02 132.76L456.38 142.37M451.28 132.76L456.38 138.62M454.54 132.76L456.38 134.87" fill="none" stroke="#262626" stroke-width="1"/>
<rect x="448.02" y="132.76" width="8.36" height="21.74" fill="none" stroke="#1c1c1c" stroke-width="1.1"/>
<line x1="452.2" y1="132.76" x2="452.2" y2="132.07" stroke="#858585" stroke-width="0.7"/>
<line x1="450.7" y1="132.07" x2="453.7" y2="132.07" stroke="#858585" stroke-width="0.7"/>
<line x1="297.6" y1="14.75" x2="297.6" y2="155.1" stroke="#222" stroke-width="1.25"/>
<line x1="297" y1="154.5" x2="465" y2="154.5" stroke="#222" stroke-width="1.25"/>
<line x1="294.8" y1="154.5" x2="297.6" y2="154.5" stroke="#222" stroke-width="1"/>
<text x="293.1" y="156.7" font-size="6.25" text-anchor="end" font-weight="normal" stroke="#1a1a1a" stroke-width="0.4">0</text>
<line x1="294.8" y1="119.67" x2="297.6" y2="119.67" stroke="#222" stroke-width="1"/>
<text x="293.1" y="121.88" font-size="6.25" text-anchor="end" font-weight="normal" stroke="#1a1a1a" stroke-width="0.4">25</text>
<line x1="294.8" y1="84.85" x2="297.6" y2="84.85" stroke="#222" stroke-width="1"/>
<text x="293.1" y="87.05" font-size="6.25" text-anchor="end" font-weight="normal" stroke="#1a1a1a" stroke-width="0.4">50</text>
<line x1="294.8" y1="50.03" x2="297.6" y2="50.03" stroke="#222" stroke-width="1"/>
<text x="293.1" y="52.23" font-size="6.25" text-anchor="end" font-weight="normal" stroke="#1a1a1a" stroke-width="0.4">75</text>
<line x1="294.8" y1="15.2" x2="297.6" y2="15.2" stroke="#222" stroke-width="1"/>
<text x="293.1" y="17.4" font-size="6.25" text-anchor="end" font-weight="normal" stroke="#1a1a1a" stroke-width="0.4">100</text>
<text x="343" y="171.5" font-size="12.2" text-anchor="middle" font-weight="normal" stroke="#1a1a1a" stroke-width="0.55">48 h</text>
<text x="425.8" y="171.5" font-size="12.2" text-anchor="middle" font-weight="normal" stroke="#1a1a1a" stroke-width="0.55">72 h</text>
<text transform="translate(276.8 83.5) rotate(-90) scale(1.06 1)" font-size="8.2" text-anchor="middle" stroke="#1a1a1a" stroke-width="0.42">Viability (% of untreated control)</text>
<text transform="translate(256.3 10) scale(1.08 1)" font-size="10.1" font-weight="bold" stroke="#111" stroke-width="0.9">B</text>
<path d="M310.08 12.15 V10.05 H318.64 V12.15" fill="none" stroke="#666" stroke-width="0.8"/>
<text x="314.21" y="11.25" font-size="8.2" text-anchor="middle" font-weight="bold" stroke="#1a1a1a" stroke-width="0.4" letter-spacing="-0.1">**</text>
<path d="M326.8 26.63 V24.53 H335.36 V26.63" fill="none" stroke="#666" stroke-width="0.8"/>
<text x="330.93" y="25.73" font-size="8.2" text-anchor="middle" font-weight="bold" stroke="#1a1a1a" stroke-width="0.4" letter-spacing="-0.1">**</text>
<path d="M343.52 45.58 V43.48 H352.08 V45.58" fill="none" stroke="#666" stroke-width="0.8"/>
<text x="347.65" y="44.68" font-size="8.2" text-anchor="middle" font-weight="bold" stroke="#1a1a1a" stroke-width="0.4" letter-spacing="-0.1">**</text>
<path d="M360.24 72.88 V70.78 H368.8 V72.88" fill="none" stroke="#666" stroke-width="0.8"/>
<text x="364.37" y="71.98" font-size="8.2" text-anchor="middle" font-weight="bold" stroke="#1a1a1a" stroke-width="0.4" letter-spacing="-0.1">**</text>
<path d="M393.58 12.56 V10.46 H402.14 V12.56" fill="none" stroke="#666" stroke-width="0.8"/>
<text x="397.71" y="11.66" font-size="8.2" text-anchor="middle" font-weight="bold" stroke="#1a1a1a" stroke-width="0.4" letter-spacing="-0.1">***</text>
<path d="M410.3 26.63 V24.53 H418.86 V26.63" fill="none" stroke="#666" stroke-width="0.8"/>
<text x="414.43" y="25.73" font-size="8.2" text-anchor="middle" font-weight="bold" stroke="#1a1a1a" stroke-width="0.4" letter-spacing="-0.1">**</text>
<path d="M427.02 46.69 V44.59 H435.58 V46.69" fill="none" stroke="#666" stroke-width="0.8"/>
<text x="431.15" y="45.79" font-size="8.2" text-anchor="middle" font-weight="bold" stroke="#1a1a1a" stroke-width="0.4" letter-spacing="-0.1">**</text>
<path d="M443.74 77.34 V75.24 H452.3 V77.34" fill="none" stroke="#666" stroke-width="0.8"/>
<text x="447.87" y="76.44" font-size="8.2" text-anchor="middle" font-weight="bold" stroke="#1a1a1a" stroke-width="0.4" letter-spacing="-0.1">**</text>
<rect x="464.7" y="52.4" width="59" height="69.4" fill="#fff" stroke="#777" stroke-width="0.7"/>
<rect x="467.4" y="55.6" width="13.8" height="5.8" fill="#ffffff" stroke="none" stroke-width="0"/>
<rect x="467.4" y="55.6" width="13.8" height="5.8" fill="none" stroke="#1c1c1c" stroke-width="1.15"/>
<text transform="translate(483.6 60.9) scale(0.8 1)" font-size="6.8" font-weight="bold" stroke="#1a1a1a" stroke-width="0.35">Ctrl</text>
<rect x="467.4" y="63.94" width="13.8" height="5.8" fill="#ffffff" stroke="none" stroke-width="0"/>
<path d="M467.4 68.85L468.17 69.74M467.4 65.1L471.43 69.74M469.65 63.94L474.69 69.74M472.91 63.94L477.95 69.74M476.17 63.94L481.2 69.72M479.43 63.94L481.2 65.98" fill="none" stroke="#8a8a8a" stroke-width="1"/>
<rect x="467.4" y="63.94" width="13.8" height="5.8" fill="none" stroke="#1c1c1c" stroke-width="1.15"/>
<text transform="translate(483.6 69.24) scale(0.8 1)" font-size="6.8" font-weight="bold" stroke="#1a1a1a" stroke-width="0.35">CQ</text>
<rect x="467.4" y="72.28" width="13.8" height="5.8" fill="#c6c6c6" stroke="none" stroke-width="0"/>
<rect x="467.4" y="72.28" width="13.8" height="5.8" fill="none" stroke="#1c1c1c" stroke-width="1.15"/>
<text transform="translate(483.6 77.58) scale(0.8 1)" font-size="6.8" font-weight="bold" stroke="#1a1a1a" stroke-width="0.35">Vor 0.5</text>
<rect x="467.4" y="80.62" width="13.8" height="5.8" fill="#cecece" stroke="none" stroke-width="0"/>
<path d="M467.4 83.84L469.65 86.42M467.86 80.62L472.91 86.42M471.12 80.62L476.17 86.42M474.38 80.62L479.43 86.42M477.64 80.62L481.2 84.71M480.9 80.62L481.2 80.97" fill="none" stroke="#8a8a8a" stroke-width="1"/>
<rect x="467.4" y="80.62" width="13.8" height="5.8" fill="none" stroke="#1c1c1c" stroke-width="1.15"/>
<text transform="translate(483.6 85.92) scale(0.8 1)" font-size="6.8" font-weight="bold" stroke="#1a1a1a" stroke-width="0.35">Vor 0.5 + CQ</text>
<rect x="467.4" y="88.96" width="13.8" height="5.8" fill="#898989" stroke="none" stroke-width="0"/>
<rect x="467.4" y="88.96" width="13.8" height="5.8" fill="none" stroke="#1c1c1c" stroke-width="1.15"/>
<text transform="translate(483.6 94.26) scale(0.8 1)" font-size="6.8" font-weight="bold" stroke="#1a1a1a" stroke-width="0.35">Vor 0.75</text>
<rect x="467.4" y="97.3" width="13.8" height="5.8" fill="#969696" stroke="none" stroke-width="0"/>
<path d="M467.4 102.57L467.86 103.1M467.4 98.83L471.12 103.1M469.33 97.3L474.38 103.1M472.59 97.3L477.64 103.1M475.85 97.3L480.9 103.1M479.11 97.3L481.2 99.7" fill="none" stroke="#5e5e5e" stroke-width="1"/>
<rect x="467.4" y="97.3" width="13.8" height="5.8" fill="none" stroke="#1c1c1c" stroke-width="1.15"/>
<text transform="translate(483.6 102.6) scale(0.8 1)" font-size="6.8" font-weight="bold" stroke="#1a1a1a" stroke-width="0.35">Vor 0.75 + CQ</text>
<rect x="467.4" y="105.64" width="13.8" height="5.8" fill="#3e3e3e" stroke="none" stroke-width="0"/>
<rect x="467.4" y="105.64" width="13.8" height="5.8" fill="none" stroke="#1c1c1c" stroke-width="1.15"/>
<text transform="translate(483.6 110.94) scale(0.8 1)" font-size="6.8" font-weight="bold" stroke="#1a1a1a" stroke-width="0.35">Vor 1.0</text>
<rect x="467.4" y="113.98" width="13.8" height="5.8" fill="#444444" stroke="none" stroke-width="0"/>
<path d="M467.4 117.56L469.33 119.78M467.54 113.98L472.59 119.78M470.8 113.98L475.85 119.78M474.06 113.98L479.11 119.78M477.32 113.98L481.2 118.44M480.58 113.98L481.2 114.69" fill="none" stroke="#262626" stroke-width="1"/>
<rect x="467.4" y="113.98" width="13.8" height="5.8" fill="none" stroke="#1c1c1c" stroke-width="1.15"/>
<text transform="translate(483.6 119.28) scale(0.8 1)" font-size="6.8" font-weight="bold" stroke="#1a1a1a" stroke-width="0.35">Vor 1.0 + CQ</text>
<rect x="36.5" y="200.85" width="8.03" height="142.95" fill="#ffffff" stroke="none" stroke-width="0"/>
<rect x="36.5" y="200.85" width="8.03" height="142.95" fill="none" stroke="#1c1c1c" stroke-width="1.1"/>
<rect x="44.53" y="210.46" width="8.03" height="133.34" fill="#ffffff" stroke="none" stroke-width="0"/>
<path d="M44.53 343.46L44.83 343.8M44.53 339.71L48.09 343.8M44.53 335.97L51.35 343.8M44.53 332.22L52.56 341.45M44.53 328.47L52.56 337.7M44.53 324.72L52.56 333.95M44.53 320.98L52.56 330.21M44.53 317.23L52.56 326.46M44.53 313.48L52.56 322.71M44.53 309.74L52.56 318.97M44.53 305.99L52.56 315.22M44.53 302.24L52.56 311.47M44.53 298.49L52.56 307.72M44.53 294.75L52.56 303.98M44.53 291L52.56 300.23M44.53 287.25L52.56 296.48M44.53 283.51L52.56 292.74M44.53 279.76L52.56 288.99M44.53 276.01L52.56 285.24M44.53 272.26L52.56 281.49M44.53 268.52L52.56 277.75M44.53 264.77L52.56 274M44.53 261.02L52.56 270.25M44.53 257.28L52.56 266.51M44.53 253.53L52.56 262.76M44.53 249.78L52.56 259.01M44.53 246.03L52.56 255.26M44.53 242.29L52.56 251.52M44.53 238.54L52.56 247.77M44.53 234.79L52.56 244.02M44.53 231.05L52.56 240.28M44.53 227.3L52.56 236.53M44.53 223.55L52.56 232.78M44.53 219.8L52.56 229.03M44.53 216.06L52.56 225.29M44.53 212.31L52.56 221.54M46.18 210.46L52.56 217.79M49.44 210.46L52.56 214.05" fill="none" stroke="#8a8a8a" stroke-width="1"/>
<rect x="44.53" y="210.46" width="8.03" height="133.34" fill="none" stroke="#1c1c1c" stroke-width="1.1"/>
<line x1="48.55" y1="210.46" x2="48.55" y2="209.6" stroke="#858585" stroke-width="0.7"/>
<line x1="47.05" y1="209.6" x2="50.05" y2="209.6" stroke="#858585" stroke-width="0.7"/>
<rect x="52.56" y="201.57" width="8.03" height="142.23" fill="#898989" stroke="none" stroke-width="0"/>
<rect x="52.56" y="201.57" width="8.03" height="142.23" fill="none" stroke="#1c1c1c" stroke-width="1.1"/>
<line x1="56.58" y1="201.57" x2="56.58" y2="201.14" stroke="#858585" stroke-width="0.7"/>
<line x1="55.08" y1="201.14" x2="58.08" y2="201.14" stroke="#858585" stroke-width="0.7"/>
<rect x="60.59" y="206.88" width="8.03" height="136.92" fill="#969696" stroke="none" stroke-width="0"/>
<path d="M60.59 343.18L61.13 343.8M60.59 339.44L64.39 343.8M60.59 335.69L67.65 343.8M60.59 331.94L68.62 341.17M60.59 328.2L68.62 337.43M60.59 324.45L68.62 333.68M60.59 320.7L68.62 329.93M60.59 316.95L68.62 326.18M60.59 313.21L68.62 322.44M60.59 309.46L68.62 318.69M60.59 305.71L68.62 314.94M60.59 301.97L68.62 311.2M60.59 298.22L68.62 307.45M60.59 294.47L68.62 303.7M60.59 290.72L68.62 299.95M60.59 286.98L68.62 296.21M60.59 283.23L68.62 292.46M60.59 279.48L68.62 288.71M60.59 275.74L68.62 284.97M60.59 271.99L68.62 281.22M60.59 268.24L68.62 277.47M60.59 264.49L68.62 273.72M60.59 260.75L68.62 269.98M60.59 257L68.62 266.23M60.59 253.25L68.62 262.48M60.59 249.51L68.62 258.74M60.59 245.76L68.62 254.99M60.59 242.01L68.62 251.24M60.59 238.26L68.62 247.49M60.59 234.52L68.62 243.75M60.59 230.77L68.62 240M60.59 227.02L68.62 236.25M60.59 223.28L68.62 232.51M60.59 219.53L68.62 228.76M60.59 215.78L68.62 225.01M60.59 212.03L68.62 221.26M60.59 208.29L68.62 217.52M62.62 206.88L68.62 213.77M65.88 206.88L68.62 210.02" fill="none" stroke="#5e5e5e" stroke-width="1"/>
<rect x="60.59" y="206.88" width="8.03" height="136.92" fill="none" stroke="#1c1c1c" stroke-width="1.1"/>
<line x1="64.6" y1="206.88" x2="64.6" y2="206.02" stroke="#858585" stroke-width="0.7"/>
<line x1="63.1" y1="206.02" x2="66.1" y2="206.02" stroke="#858585" stroke-width="0.7"/>
<rect x="68.62" y="202.29" width="8.03" height="141.51" fill="#3e3e3e" stroke="none" stroke-width="0"/>
<rect x="68.62" y="202.29" width="8.03" height="141.51" fill="none" stroke="#1c1c1c" stroke-width="1.1"/>
<line x1="72.64" y1="202.29" x2="72.64" y2="201.85" stroke="#858585" stroke-width="0.7"/>
<line x1="71.14" y1="201.85" x2="74.14" y2="201.85" stroke="#858585" stroke-width="0.7"/>
<rect x="76.65" y="208.46" width="8.03" height="135.34" fill="#444444" stroke="none" stroke-width="0"/>
<path d="M76.65 342.91L77.43 343.8M76.65 339.16L80.69 343.8M76.65 335.41L83.95 343.8M76.65 331.67L84.68 340.9M76.65 327.92L84.68 337.15M76.65 324.17L84.68 333.4M76.65 320.43L84.68 329.66M76.65 316.68L84.68 325.91M76.65 312.93L84.68 322.16M76.65 309.18L84.68 318.41M76.65 305.44L84.68 314.67M76.65 301.69L84.68 310.92M76.65 297.94L84.68 307.17M76.65 294.2L84.68 303.43M76.65 290.45L84.68 299.68M76.65 286.7L84.68 295.93M76.65 282.95L84.68 292.18M76.65 279.21L84.68 288.44M76.65 275.46L84.68 284.69M76.65 271.71L84.68 280.94M76.65 267.97L84.68 277.2M76.65 264.22L84.68 273.45M76.65 260.47L84.68 269.7M76.65 256.72L84.68 265.95M76.65 252.98L84.68 262.21M76.65 249.23L84.68 258.46M76.65 245.48L84.68 254.71M76.65 241.74L84.68 250.97M76.65 237.99L84.68 247.22M76.65 234.24L84.68 243.47M76.65 230.49L84.68 239.72M76.65 226.75L84.68 235.98M76.65 223L84.68 232.23M76.65 219.25L84.68 228.48M76.65 215.51L84.68 224.74M76.65 211.76L84.68 220.99M77.04 208.46L84.68 217.24M80.3 208.46L84.68 213.49M83.56 208.46L84.68 209.75" fill="none" stroke="#262626" stroke-width="1"/>
<rect x="76.65" y="208.46" width="8.03" height="135.34" fill="none" stroke="#1c1c1c" stroke-width="1.1"/>
<line x1="80.67" y1="208.46" x2="80.67" y2="205.87" stroke="#858585" stroke-width="0.7"/>
<line x1="79.17" y1="205.87" x2="82.17" y2="205.87" stroke="#858585" stroke-width="0.7"/>
<rect x="96.5" y="200.85" width="8.03" height="142.95" fill="#ffffff" stroke="none" stroke-width="0"/>
<rect x="96.5" y="200.85" width="8.03" height="142.95" fill="none" stroke="#1c1c1c" stroke-width="1.1"/>
<rect x="104.53" y="209.89" width="8.03" height="133.91" fill="#ffffff" stroke="none" stroke-width="0"/>
<path d="M104.53 341.23L106.77 343.8M104.53 337.48L110.03 343.8M104.53 333.74L112.56 342.97M104.53 329.99L112.56 339.22M104.53 326.24L112.56 335.47M104.53 322.49L112.56 331.72M104.53 318.75L112.56 327.98M104.53 315L112.56 324.23M104.53 311.25L112.56 320.48M104.53 307.51L112.56 316.74M104.53 303.76L112.56 312.99M104.53 300.01L112.56 309.24M104.53 296.26L112.56 305.49M104.53 292.52L112.56 301.75M104.53 288.77L112.56 298M104.53 285.02L112.56 294.25M104.53 281.28L112.56 290.51M104.53 277.53L112.56 286.76M104.53 273.78L112.56 283.01M104.53 270.03L112.56 279.26M104.53 266.29L112.56 275.52M104.53 262.54L112.56 271.77M104.53 258.79L112.56 268.02M104.53 255.05L112.56 264.28M104.53 251.3L112.56 260.53M104.53 247.55L112.56 256.78M104.53 243.8L112.56 253.03M104.53 240.06L112.56 249.29M104.53 236.31L112.56 245.54M104.53 232.56L112.56 241.79M104.53 228.82L112.56 238.05M104.53 225.07L112.56 234.3M104.53 221.32L112.56 230.55M104.53 217.57L112.56 226.8M104.53 213.83L112.56 223.06M104.53 210.08L112.56 219.31M107.62 209.89L112.56 215.56M110.88 209.89L112.56 211.82" fill="none" stroke="#8a8a8a" stroke-width="1"/>
<rect x="104.53" y="209.89" width="8.03" height="133.91" fill="none" stroke="#1c1c1c" stroke-width="1.1"/>
<line x1="108.55" y1="209.89" x2="108.55" y2="205.59" stroke="#858585" stroke-width="0.7"/>
<line x1="107.05" y1="205.59" x2="110.05" y2="205.59" stroke="#858585" stroke-width="0.7"/>
<line x1="108.55" y1="209.89" x2="108.55" y2="214.2" stroke="#858585" stroke-width="0.7"/>
<line x1="107.05" y1="214.2" x2="110.05" y2="214.2" stroke="#858585" stroke-width="0.7"/>
<rect x="112.56" y="200.13" width="8.03" height="143.67" fill="#898989" stroke="none" stroke-width="0"/>
<rect x="112.56" y="200.13" width="8.03" height="143.67" fill="none" stroke="#1c1c1c" stroke-width="1.1"/>
<line x1="116.58" y1="200.13" x2="116.58" y2="199.7" stroke="#858585" stroke-width="0.7"/>
<line x1="115.08" y1="199.7" x2="118.08" y2="199.7" stroke="#858585" stroke-width="0.7"/>
<rect x="120.59" y="207.02" width="8.03" height="136.78" fill="#969696" stroke="none" stroke-width="0"/>
<path d="M120.59 340.95L123.07 343.8M120.59 337.21L126.33 343.8M120.59 333.46L128.62 342.69M120.59 329.71L128.62 338.94M120.59 325.97L128.62 335.2M120.59 322.22L128.62 331.45M120.59 318.47L128.62 327.7M120.59 314.72L128.62 323.95M120.59 310.98L128.62 320.21M120.59 307.23L128.62 316.46M120.59 303.48L128.62 312.71M120.59 299.74L128.62 308.97M120.59 295.99L128.62 305.22M120.59 292.24L128.62 301.47M120.59 288.49L128.62 297.72M120.59 284.75L128.62 293.98M120.59 281L128.62 290.23M120.59 277.25L128.62 286.48M120.59 273.51L128.62 282.74M120.59 269.76L128.62 278.99M120.59 266.01L128.62 275.24M120.59 262.26L128.62 271.49M120.59 258.52L128.62 267.75M120.59 254.77L128.62 264M120.59 251.02L128.62 260.25M120.59 247.28L128.62 256.51M120.59 243.53L128.62 252.76M120.59 239.78L128.62 249.01M120.59 236.03L128.62 245.26M120.59 232.29L128.62 241.52M120.59 228.54L128.62 237.77M120.59 224.79L128.62 234.02M120.59 221.05L128.62 230.28M120.59 217.3L128.62 226.53M120.59 213.55L128.62 222.78M120.59 209.8L128.62 219.03M121.43 207.02L128.62 215.29M124.69 207.02L128.62 211.54M127.95 207.02L128.62 207.79" fill="none" stroke="#5e5e5e" stroke-width="1"/>
<rect x="120.59" y="207.02" width="8.03" height="136.78" fill="none" stroke="#1c1c1c" stroke-width="1.1"/>
<line x1="124.61" y1="207.02" x2="124.61" y2="204.01" stroke="#858585" stroke-width="0.7"/>
<line x1="123.11" y1="204.01" x2="126.11" y2="204.01" stroke="#858585" stroke-width="0.7"/>
<rect x="128.62" y="200.71" width="8.03" height="143.09" fill="#3e3e3e" stroke="none" stroke-width="0"/>
<rect x="128.62" y="200.71" width="8.03" height="143.09" fill="none" stroke="#1c1c1c" stroke-width="1.1"/>
<line x1="132.63" y1="200.71" x2="132.63" y2="199.99" stroke="#858585" stroke-width="0.7"/>
<line x1="131.13" y1="199.99" x2="134.13" y2="199.99" stroke="#858585" stroke-width="0.7"/>
<rect x="136.65" y="209.89" width="8.03" height="133.91" fill="#444444" stroke="none" stroke-width="0"/>
<path d="M136.65 340.68L139.37 343.8M136.65 336.93L142.63 343.8M136.65 333.18L144.68 342.41M136.65 329.44L144.68 338.67M136.65 325.69L144.68 334.92M136.65 321.94L144.68 331.17M136.65 318.2L144.68 327.43M136.65 314.45L144.68 323.68M136.65 310.7L144.68 319.93M136.65 306.95L144.68 316.18M136.65 303.21L144.68 312.44M136.65 299.46L144.68 308.69M136.65 295.71L144.68 304.94M136.65 291.97L144.68 301.2M136.65 288.22L144.68 297.45M136.65 284.47L144.68 293.7M136.65 280.72L144.68 289.95M136.65 276.98L144.68 286.21M136.65 273.23L144.68 282.46M136.65 269.48L144.68 278.71M136.65 265.74L144.68 274.97M136.65 261.99L144.68 271.22M136.65 258.24L144.68 267.47M136.65 254.49L144.68 263.72M136.65 250.75L144.68 259.98M136.65 247L144.68 256.23M136.65 243.25L144.68 252.48M136.65 239.51L144.68 248.74M136.65 235.76L144.68 244.99M136.65 232.01L144.68 241.24M136.65 228.26L144.68 237.49M136.65 224.52L144.68 233.75M136.65 220.77L144.68 230M136.65 217.02L144.68 226.25M136.65 213.28L144.68 222.51M136.96 209.89L144.68 218.76M140.22 209.89L144.68 215.01M143.48 209.89L144.68 211.26" fill="none" stroke="#262626" stroke-width="1"/>
<rect x="136.65" y="209.89" width="8.03" height="133.91" fill="none" stroke="#1c1c1c" stroke-width="1.1"/>
<line x1="140.66" y1="209.89" x2="140.66" y2="208.46" stroke="#858585" stroke-width="0.7"/>
<line x1="139.16" y1="208.46" x2="142.16" y2="208.46" stroke="#858585" stroke-width="0.7"/>
<line x1="30.3" y1="199.85" x2="30.3" y2="344.4" stroke="#222" stroke-width="1.25"/>
<line x1="29.7" y1="343.8" x2="150.5" y2="343.8" stroke="#222" stroke-width="1.25"/>
<line x1="27.5" y1="343.8" x2="30.3" y2="343.8" stroke="#222" stroke-width="1"/>
<text x="25.8" y="346.07" font-size="6.45" text-anchor="end" font-weight="normal" stroke="#1a1a1a" stroke-width="0.4">0</text>
<line x1="27.5" y1="307.93" x2="30.3" y2="307.93" stroke="#222" stroke-width="1"/>
<text x="25.8" y="310.2" font-size="6.45" text-anchor="end" font-weight="normal" stroke="#1a1a1a" stroke-width="0.4">25</text>
<line x1="27.5" y1="272.05" x2="30.3" y2="272.05" stroke="#222" stroke-width="1"/>
<text x="25.8" y="274.32" font-size="6.45" text-anchor="end" font-weight="normal" stroke="#1a1a1a" stroke-width="0.4">50</text>
<line x1="27.5" y1="236.18" x2="30.3" y2="236.18" stroke="#222" stroke-width="1"/>
<text x="25.8" y="238.45" font-size="6.45" text-anchor="end" font-weight="normal" stroke="#1a1a1a" stroke-width="0.4">75</text>
<line x1="27.5" y1="200.3" x2="30.3" y2="200.3" stroke="#222" stroke-width="1"/>
<text x="25.8" y="202.57" font-size="6.45" text-anchor="end" font-weight="normal" stroke="#1a1a1a" stroke-width="0.4">100</text>
<text x="63.8" y="360.3" font-size="12.2" text-anchor="middle" font-weight="normal" stroke="#1a1a1a" stroke-width="0.55">48 h</text>
<text x="119.8" y="360.3" font-size="12.2" text-anchor="middle" font-weight="normal" stroke="#1a1a1a" stroke-width="0.55">72 h</text>
<text transform="translate(8.6 271.5) rotate(-90) scale(1.06 1)" font-size="8.46" text-anchor="middle" stroke="#1a1a1a" stroke-width="0.42">Viability (% of untreated control)</text>
<text transform="translate(0 192.7) scale(1.08 1)" font-size="10.1" font-weight="bold" stroke="#111" stroke-width="0.9">C</text>
<path d="M40.41 197.66 V195.56 H48.65 V197.66" fill="none" stroke="#666" stroke-width="0.8"/>
<text x="44.38" y="196.76" font-size="8.2" text-anchor="middle" font-weight="bold" stroke="#1a1a1a" stroke-width="0.4" letter-spacing="-0.1">*</text>
<path d="M56.48 197.66 V195.56 H64.7 V197.66" fill="none" stroke="#666" stroke-width="0.8"/>
<text x="60.44" y="196.76" font-size="8.2" text-anchor="middle" font-weight="bold" stroke="#1a1a1a" stroke-width="0.4" letter-spacing="-0.1">*</text>
<path d="M132.53 196.66 V194.56 H140.76 V196.66" fill="none" stroke="#666" stroke-width="0.8"/>
<text x="136.5" y="195.76" font-size="8.2" text-anchor="middle" font-weight="bold" stroke="#1a1a1a" stroke-width="0.4" letter-spacing="-0.1">*</text>
<rect x="153.6" y="242.4" width="59.7" height="53.8" fill="#fff" stroke="#777" stroke-width="0.7"/>
<rect x="155.9" y="244.9" width="14.6" height="6" fill="#ffffff" stroke="none" stroke-width="0"/>
<rect x="155.9" y="244.9" width="14.6" height="6" fill="none" stroke="#1c1c1c" stroke-width="1.15"/>
<text transform="translate(172.8 250.3) scale(0.8 1)" font-size="6.93" font-weight="bold" stroke="#1a1a1a" stroke-width="0.35">Ctrl</text>
<rect x="155.9" y="253.46" width="14.6" height="6" fill="#ffffff" stroke="none" stroke-width="0"/>
<path d="M155.9 257.89L157.27 259.46M155.9 254.14L160.53 259.46M158.57 253.46L163.79 259.46M161.83 253.46L167.05 259.46M165.09 253.46L170.31 259.46M168.35 253.46L170.5 255.93" fill="none" stroke="#8a8a8a" stroke-width="1"/>
<rect x="155.9" y="253.46" width="14.6" height="6" fill="none" stroke="#1c1c1c" stroke-width="1.15"/>
<text transform="translate(172.8 258.86) scale(0.8 1)" font-size="6.93" font-weight="bold" stroke="#1a1a1a" stroke-width="0.35">CQ</text>
<rect x="155.9" y="262.02" width="14.6" height="6" fill="#898989" stroke="none" stroke-width="0"/>
<rect x="155.9" y="262.02" width="14.6" height="6" fill="none" stroke="#1c1c1c" stroke-width="1.15"/>
<text transform="translate(172.8 267.42) scale(0.8 1)" font-size="6.93" font-weight="bold" stroke="#1a1a1a" stroke-width="0.35">VPA 0.75</text>
<rect x="155.9" y="270.58" width="14.6" height="6" fill="#969696" stroke="none" stroke-width="0"/>
<path d="M155.9 272.87L159.12 276.58M157.16 270.58L162.38 276.58M160.42 270.58L165.64 276.58M163.68 270.58L168.9 276.58M166.94 270.58L170.5 274.67M170.2 270.58L170.5 270.92" fill="none" stroke="#5e5e5e" stroke-width="1"/>
<rect x="155.9" y="270.58" width="14.6" height="6" fill="none" stroke="#1c1c1c" stroke-width="1.15"/>
<text transform="translate(172.8 275.98) scale(0.8 1)" font-size="6.93" font-weight="bold" stroke="#1a1a1a" stroke-width="0.35">VPA 0.75 + CQ</text>
<rect x="155.9" y="279.14" width="14.6" height="6" fill="#3e3e3e" stroke="none" stroke-width="0"/>
<rect x="155.9" y="279.14" width="14.6" height="6" fill="none" stroke="#1c1c1c" stroke-width="1.15"/>
<text transform="translate(172.8 284.54) scale(0.8 1)" font-size="6.93" font-weight="bold" stroke="#1a1a1a" stroke-width="0.35">VPA 1.0</text>
<rect x="155.9" y="287.7" width="14.6" height="6" fill="#444444" stroke="none" stroke-width="0"/>
<path d="M155.9 291.61L157.72 293.7M155.9 287.86L160.98 293.7M159.02 287.7L164.24 293.7M162.28 287.7L167.5 293.7M165.54 287.7L170.5 293.4M168.8 287.7L170.5 289.66" fill="none" stroke="#262626" stroke-width="1"/>
<rect x="155.9" y="287.7" width="14.6" height="6" fill="none" stroke="#1c1c1c" stroke-width="1.15"/>
<text transform="translate(172.8 293.1) scale(0.8 1)" font-size="6.93" font-weight="bold" stroke="#1a1a1a" stroke-width="0.35">VPA 1.0 + CQ</text>
<rect x="290.9" y="200.85" width="8.01" height="142.95" fill="#ffffff" stroke="none" stroke-width="0"/>
<rect x="290.9" y="200.85" width="8.01" height="142.95" fill="none" stroke="#1c1c1c" stroke-width="1.1"/>
<rect x="298.91" y="209.89" width="8.01" height="133.91" fill="#ffffff" stroke="none" stroke-width="0"/>
<path d="M298.91 343.57L299.11 343.8M298.91 339.83L302.37 343.8M298.91 336.08L305.63 343.8M298.91 332.33L306.92 341.54M298.91 328.59L306.92 337.79M298.91 324.84L306.92 334.05M298.91 321.09L306.92 330.3M298.91 317.34L306.92 326.55M298.91 313.6L306.92 322.8M298.91 309.85L306.92 319.06M298.91 306.1L306.92 315.31M298.91 302.36L306.92 311.56M298.91 298.61L306.92 307.82M298.91 294.86L306.92 304.07M298.91 291.11L306.92 300.32M298.91 287.37L306.92 296.57M298.91 283.62L306.92 292.83M298.91 279.87L306.92 289.08M298.91 276.13L306.92 285.33M298.91 272.38L306.92 281.59M298.91 268.63L306.92 277.84M298.91 264.89L306.92 274.09M298.91 261.14L306.92 270.34M298.91 257.39L306.92 266.6M298.91 253.64L306.92 262.85M298.91 249.9L306.92 259.1M298.91 246.15L306.92 255.36M298.91 242.4L306.92 251.61M298.91 238.66L306.92 247.86M298.91 234.91L306.92 244.11M298.91 231.16L306.92 240.37M298.91 227.41L306.92 236.62M298.91 223.67L306.92 232.87M298.91 219.92L306.92 229.13M298.91 216.17L306.92 225.38M298.91 212.43L306.92 221.63M299.96 209.89L306.92 217.89M303.22 209.89L306.92 214.14M306.48 209.89L306.92 210.39" fill="none" stroke="#8a8a8a" stroke-width="1"/>
<rect x="298.91" y="209.89" width="8.01" height="133.91" fill="none" stroke="#1c1c1c" stroke-width="1.1"/>
<line x1="302.91" y1="209.89" x2="302.91" y2="207.88" stroke="#858585" stroke-width="0.7"/>
<line x1="301.41" y1="207.88" x2="304.41" y2="207.88" stroke="#858585" stroke-width="0.7"/>
<line x1="302.91" y1="209.89" x2="302.91" y2="211.9" stroke="#858585" stroke-width="0.7"/>
<line x1="301.41" y1="211.9" x2="304.41" y2="211.9" stroke="#858585" stroke-width="0.7"/>
<rect x="306.92" y="203" width="8.01" height="140.8" fill="#898989" stroke="none" stroke-width="0"/>
<rect x="306.92" y="203" width="8.01" height="140.8" fill="none" stroke="#1c1c1c" stroke-width="1.1"/>
<line x1="310.92" y1="203" x2="310.92" y2="202.57" stroke="#858585" stroke-width="0.7"/>
<line x1="309.42" y1="202.57" x2="312.42" y2="202.57" stroke="#858585" stroke-width="0.7"/>
<rect x="314.93" y="209.89" width="8.01" height="133.91" fill="#969696" stroke="none" stroke-width="0"/>
<path d="M314.93 343.25L315.41 343.8M314.93 339.51L318.67 343.8M314.93 335.76L321.93 343.8M314.93 332.01L322.94 341.22M314.93 328.26L322.94 337.47M314.93 324.52L322.94 333.72M314.93 320.77L322.94 329.98M314.93 317.02L322.94 326.23M314.93 313.28L322.94 322.48M314.93 309.53L322.94 318.74M314.93 305.78L322.94 314.99M314.93 302.03L322.94 311.24M314.93 298.29L322.94 307.49M314.93 294.54L322.94 303.75M314.93 290.79L322.94 300M314.93 287.05L322.94 296.25M314.93 283.3L322.94 292.51M314.93 279.55L322.94 288.76M314.93 275.8L322.94 285.01M314.93 272.06L322.94 281.26M314.93 268.31L322.94 277.52M314.93 264.56L322.94 273.77M314.93 260.82L322.94 270.02M314.93 257.07L322.94 266.28M314.93 253.32L322.94 262.53M314.93 249.57L322.94 258.78M314.93 245.83L322.94 255.03M314.93 242.08L322.94 251.29M314.93 238.33L322.94 247.54M314.93 234.59L322.94 243.79M314.93 230.84L322.94 240.05M314.93 227.09L322.94 236.3M314.93 223.34L322.94 232.55M314.93 219.6L322.94 228.8M314.93 215.85L322.94 225.06M314.93 212.1L322.94 221.31M316.26 209.89L322.94 217.56M319.52 209.89L322.94 213.82M322.78 209.89L322.94 210.07" fill="none" stroke="#5e5e5e" stroke-width="1"/>
<rect x="314.93" y="209.89" width="8.01" height="133.91" fill="none" stroke="#1c1c1c" stroke-width="1.1"/>
<line x1="318.93" y1="209.89" x2="318.93" y2="209.17" stroke="#858585" stroke-width="0.7"/>
<line x1="317.43" y1="209.17" x2="320.43" y2="209.17" stroke="#858585" stroke-width="0.7"/>
<rect x="322.94" y="212.9" width="8.01" height="130.9" fill="#3e3e3e" stroke="none" stroke-width="0"/>
<rect x="322.94" y="212.9" width="8.01" height="130.9" fill="none" stroke="#1c1c1c" stroke-width="1.1"/>
<line x1="326.94" y1="212.9" x2="326.94" y2="211.76" stroke="#858585" stroke-width="0.7"/>
<line x1="325.44" y1="211.76" x2="328.44" y2="211.76" stroke="#858585" stroke-width="0.7"/>
<rect x="330.95" y="219.65" width="8.01" height="124.15" fill="#444444" stroke="none" stroke-width="0"/>
<path d="M330.95 342.93L331.71 343.8M330.95 339.18L334.97 343.8M330.95 335.44L338.23 343.8M330.95 331.69L338.96 340.9M330.95 327.94L338.96 337.15M330.95 324.2L338.96 333.4M330.95 320.45L338.96 329.66M330.95 316.7L338.96 325.91M330.95 312.95L338.96 322.16M330.95 309.21L338.96 318.41M330.95 305.46L338.96 314.67M330.95 301.71L338.96 310.92M330.95 297.97L338.96 307.17M330.95 294.22L338.96 303.43M330.95 290.47L338.96 299.68M330.95 286.72L338.96 295.93M330.95 282.98L338.96 292.18M330.95 279.23L338.96 288.44M330.95 275.48L338.96 284.69M330.95 271.74L338.96 280.94M330.95 267.99L338.96 277.2M330.95 264.24L338.96 273.45M330.95 260.49L338.96 269.7M330.95 256.75L338.96 265.95M330.95 253L338.96 262.21M330.95 249.25L338.96 258.46M330.95 245.51L338.96 254.71M330.95 241.76L338.96 250.97M330.95 238.01L338.96 247.22M330.95 234.26L338.96 243.47M330.95 230.52L338.96 239.72M330.95 226.77L338.96 235.98M330.95 223.02L338.96 232.23M331.27 219.65L338.96 228.48M334.53 219.65L338.96 224.74M337.79 219.65L338.96 220.99" fill="none" stroke="#262626" stroke-width="1"/>
<rect x="330.95" y="219.65" width="8.01" height="124.15" fill="none" stroke="#1c1c1c" stroke-width="1.1"/>
<line x1="334.95" y1="219.65" x2="334.95" y2="218.93" stroke="#858585" stroke-width="0.7"/>
<line x1="333.45" y1="218.93" x2="336.45" y2="218.93" stroke="#858585" stroke-width="0.7"/>
<rect x="350.8" y="200.85" width="8.01" height="142.95" fill="#ffffff" stroke="none" stroke-width="0"/>
<rect x="350.8" y="200.85" width="8.01" height="142.95" fill="none" stroke="#1c1c1c" stroke-width="1.1"/>
<rect x="358.81" y="209.03" width="8.01" height="134.77" fill="#ffffff" stroke="none" stroke-width="0"/>
<path d="M358.81 341.23L361.05 343.8M358.81 337.48L364.31 343.8M358.81 333.74L366.82 342.94M358.81 329.99L366.82 339.2M358.81 326.24L366.82 335.45M358.81 322.49L366.82 331.7M358.81 318.75L366.82 327.95M358.81 315L366.82 324.21M358.81 311.25L366.82 320.46M358.81 307.51L366.82 316.71M358.81 303.76L366.82 312.97M358.81 300.01L366.82 309.22M358.81 296.26L366.82 305.47M358.81 292.52L366.82 301.72M358.81 288.77L366.82 297.98M358.81 285.02L366.82 294.23M358.81 281.28L366.82 290.48M358.81 277.53L366.82 286.74M358.81 273.78L366.82 282.99M358.81 270.03L366.82 279.24M358.81 266.29L366.82 275.49M358.81 262.54L366.82 271.75M358.81 258.79L366.82 268M358.81 255.05L366.82 264.25M358.81 251.3L366.82 260.51M358.81 247.55L366.82 256.76M358.81 243.8L366.82 253.01M358.81 240.06L366.82 249.26M358.81 236.31L366.82 245.52M358.81 232.56L366.82 241.77M358.81 228.82L366.82 238.02M358.81 225.07L366.82 234.28M358.81 221.32L366.82 230.53M358.81 217.57L366.82 226.78M358.81 213.83L366.82 223.03M358.81 210.08L366.82 219.29M361.16 209.03L366.82 215.54M364.42 209.03L366.82 211.79" fill="none" stroke="#8a8a8a" stroke-width="1"/>
<rect x="358.81" y="209.03" width="8.01" height="134.77" fill="none" stroke="#1c1c1c" stroke-width="1.1"/>
<line x1="362.81" y1="209.03" x2="362.81" y2="204.01" stroke="#858585" stroke-width="0.7"/>
<line x1="361.31" y1="204.01" x2="364.31" y2="204.01" stroke="#858585" stroke-width="0.7"/>
<line x1="362.81" y1="209.03" x2="362.81" y2="214.05" stroke="#858585" stroke-width="0.7"/>
<line x1="361.31" y1="214.05" x2="364.31" y2="214.05" stroke="#858585" stroke-width="0.7"/>
<rect x="366.82" y="200.13" width="8.01" height="143.67" fill="#898989" stroke="none" stroke-width="0"/>
<rect x="366.82" y="200.13" width="8.01" height="143.67" fill="none" stroke="#1c1c1c" stroke-width="1.1"/>
<line x1="370.82" y1="200.13" x2="370.82" y2="199.7" stroke="#858585" stroke-width="0.7"/>
<line x1="369.32" y1="199.7" x2="372.32" y2="199.7" stroke="#858585" stroke-width="0.7"/>
<rect x="374.83" y="210.18" width="8.01" height="133.62" fill="#969696" stroke="none" stroke-width="0"/>
<path d="M374.83 340.91L377.35 343.8M374.83 337.16L380.61 343.8M374.83 333.41L382.84 342.62M374.83 329.67L382.84 338.87M374.83 325.92L382.84 335.13M374.83 322.17L382.84 331.38M374.83 318.43L382.84 327.63M374.83 314.68L382.84 323.89M374.83 310.93L382.84 320.14M374.83 307.18L382.84 316.39M374.83 303.44L382.84 312.64M374.83 299.69L382.84 308.9M374.83 295.94L382.84 305.15M374.83 292.2L382.84 301.4M374.83 288.45L382.84 297.66M374.83 284.7L382.84 293.91M374.83 280.95L382.84 290.16M374.83 277.21L382.84 286.41M374.83 273.46L382.84 282.67M374.83 269.71L382.84 278.92M374.83 265.97L382.84 275.17M374.83 262.22L382.84 271.43M374.83 258.47L382.84 267.68M374.83 254.72L382.84 263.93M374.83 250.98L382.84 260.18M374.83 247.23L382.84 256.44M374.83 243.48L382.84 252.69M374.83 239.74L382.84 248.94M374.83 235.99L382.84 245.2M374.83 232.24L382.84 241.45M374.83 228.49L382.84 237.7M374.83 224.75L382.84 233.95M374.83 221L382.84 230.21M374.83 217.25L382.84 226.46M374.83 213.51L382.84 222.71M375.19 210.18L382.84 218.97M378.45 210.18L382.84 215.22M381.71 210.18L382.84 211.47" fill="none" stroke="#5e5e5e" stroke-width="1"/>
<rect x="374.83" y="210.18" width="8.01" height="133.62" fill="none" stroke="#1c1c1c" stroke-width="1.1"/>
<line x1="378.84" y1="210.18" x2="378.84" y2="209.32" stroke="#858585" stroke-width="0.7"/>
<line x1="377.34" y1="209.32" x2="380.34" y2="209.32" stroke="#858585" stroke-width="0.7"/>
<rect x="382.84" y="214.77" width="8.01" height="129.03" fill="#3e3e3e" stroke="none" stroke-width="0"/>
<rect x="382.84" y="214.77" width="8.01" height="129.03" fill="none" stroke="#1c1c1c" stroke-width="1.1"/>
<line x1="386.85" y1="214.77" x2="386.85" y2="213.91" stroke="#858585" stroke-width="0.7"/>
<line x1="385.35" y1="213.91" x2="388.35" y2="213.91" stroke="#858585" stroke-width="0.7"/>
<rect x="390.85" y="226.68" width="8.01" height="117.12" fill="#444444" stroke="none" stroke-width="0"/>
<path d="M390.85 340.59L393.65 343.8M390.85 336.84L396.91 343.8M390.85 333.09L398.86 342.3M390.85 329.34L398.86 338.55M390.85 325.6L398.86 334.8M390.85 321.85L398.86 331.06M390.85 318.1L398.86 327.31M390.85 314.36L398.86 323.56M390.85 310.61L398.86 319.82M390.85 306.86L398.86 316.07M390.85 303.11L398.86 312.32M390.85 299.37L398.86 308.57M390.85 295.62L398.86 304.83M390.85 291.87L398.86 301.08M390.85 288.13L398.86 297.33M390.85 284.38L398.86 293.59M390.85 280.63L398.86 289.84M390.85 276.89L398.86 286.09M390.85 273.14L398.86 282.34M390.85 269.39L398.86 278.6M390.85 265.64L398.86 274.85M390.85 261.9L398.86 271.1M390.85 258.15L398.86 267.36M390.85 254.4L398.86 263.61M390.85 250.66L398.86 259.86M390.85 246.91L398.86 256.11M390.85 243.16L398.86 252.37M390.85 239.41L398.86 248.62M390.85 235.67L398.86 244.87M390.85 231.92L398.86 241.13M390.85 228.17L398.86 237.38M392.81 226.68L398.86 233.63M396.07 226.68L398.86 229.89" fill="none" stroke="#262626" stroke-width="1"/>
<rect x="390.85" y="226.68" width="8.01" height="117.12" fill="none" stroke="#1c1c1c" stroke-width="1.1"/>
<line x1="394.86" y1="226.68" x2="394.86" y2="223.09" stroke="#858585" stroke-width="0.7"/>
<line x1="393.36" y1="223.09" x2="396.36" y2="223.09" stroke="#858585" stroke-width="0.7"/>
<line x1="284.9" y1="199.85" x2="284.9" y2="344.4" stroke="#222" stroke-width="1.25"/>
<line x1="284.3" y1="343.8" x2="405" y2="343.8" stroke="#222" stroke-width="1.25"/>
<line x1="282.1" y1="343.8" x2="284.9" y2="343.8" stroke="#222" stroke-width="1"/>
<text x="280.4" y="346.07" font-size="6.45" text-anchor="end" font-weight="normal" stroke="#1a1a1a" stroke-width="0.4">0</text>
<line x1="282.1" y1="307.93" x2="284.9" y2="307.93" stroke="#222" stroke-width="1"/>
<text x="280.4" y="310.2" font-size="6.45" text-anchor="end" font-weight="normal" stroke="#1a1a1a" stroke-width="0.4">25</text>
<line x1="282.1" y1="272.05" x2="284.9" y2="272.05" stroke="#222" stroke-width="1"/>
<text x="280.4" y="274.32" font-size="6.45" text-anchor="end" font-weight="normal" stroke="#1a1a1a" stroke-width="0.4">50</text>
<line x1="282.1" y1="236.18" x2="284.9" y2="236.18" stroke="#222" stroke-width="1"/>
<text x="280.4" y="238.45" font-size="6.45" text-anchor="end" font-weight="normal" stroke="#1a1a1a" stroke-width="0.4">75</text>
<line x1="282.1" y1="200.3" x2="284.9" y2="200.3" stroke="#222" stroke-width="1"/>
<text x="280.4" y="202.57" font-size="6.45" text-anchor="end" font-weight="normal" stroke="#1a1a1a" stroke-width="0.4">100</text>
<text x="319.6" y="360.3" font-size="12.2" text-anchor="middle" font-weight="normal" stroke="#1a1a1a" stroke-width="0.55">48 h</text>
<text x="376.1" y="360.3" font-size="12.2" text-anchor="middle" font-weight="normal" stroke="#1a1a1a" stroke-width="0.55">72 h</text>
<text transform="translate(264.3 271.5) rotate(-90) scale(1.06 1)" font-size="8.46" text-anchor="middle" stroke="#1a1a1a" stroke-width="0.42">Viability (% of untreated control)</text>
<text transform="translate(256.3 192.7) scale(1.08 1)" font-size="10.1" font-weight="bold" stroke="#111" stroke-width="0.9">D</text>
<path d="M294.8 197.09 V194.99 H303.01 V197.09" fill="none" stroke="#666" stroke-width="0.8"/>
<text x="298.76" y="196.19" font-size="8.2" text-anchor="middle" font-weight="bold" stroke="#1a1a1a" stroke-width="0.4" letter-spacing="-0.1">*</text>
<path d="M310.82 199.1 V197 H319.03 V199.1" fill="none" stroke="#666" stroke-width="0.8"/>
<text x="314.78" y="198.2" font-size="8.2" text-anchor="middle" font-weight="bold" stroke="#1a1a1a" stroke-width="0.4" letter-spacing="-0.1">*</text>
<path d="M326.84 207.85 V205.75 H335.05 V207.85" fill="none" stroke="#666" stroke-width="0.8"/>
<text x="330.8" y="206.95" font-size="8.2" text-anchor="middle" font-weight="bold" stroke="#1a1a1a" stroke-width="0.4" letter-spacing="-0.1">**</text>
<path d="M370.72 197.09 V194.99 H378.93 V197.09" fill="none" stroke="#666" stroke-width="0.8"/>
<text x="374.68" y="196.19" font-size="8.2" text-anchor="middle" font-weight="bold" stroke="#1a1a1a" stroke-width="0.4" letter-spacing="-0.1">***</text>
<path d="M386.75 209.43 V207.33 H394.95 V209.43" fill="none" stroke="#666" stroke-width="0.8"/>
<text x="390.7" y="208.53" font-size="8.2" text-anchor="middle" font-weight="bold" stroke="#1a1a1a" stroke-width="0.4" letter-spacing="-0.1">*</text>
<rect x="408.5" y="242.4" width="56.4" height="53.8" fill="#fff" stroke="#777" stroke-width="0.7"/>
<rect x="410.8" y="244.9" width="14.6" height="6" fill="#ffffff" stroke="none" stroke-width="0"/>
<rect x="410.8" y="244.9" width="14.6" height="6" fill="none" stroke="#1c1c1c" stroke-width="1.15"/>
<text transform="translate(427.6 250.3) scale(0.8 1)" font-size="6.93" font-weight="bold" stroke="#1a1a1a" stroke-width="0.35">Ctrl</text>
<rect x="410.8" y="253.46" width="14.6" height="6" fill="#ffffff" stroke="none" stroke-width="0"/>
<path d="M410.8 258.6L411.55 259.46M410.8 254.85L414.81 259.46M412.85 253.46L418.07 259.46M416.11 253.46L421.33 259.46M419.37 253.46L424.59 259.46M422.63 253.46L425.4 256.64" fill="none" stroke="#8a8a8a" stroke-width="1"/>
<rect x="410.8" y="253.46" width="14.6" height="6" fill="none" stroke="#1c1c1c" stroke-width="1.15"/>
<text transform="translate(427.6 258.86) scale(0.8 1)" font-size="6.93" font-weight="bold" stroke="#1a1a1a" stroke-width="0.35">CQ</text>
<rect x="410.8" y="262.02" width="14.6" height="6" fill="#898989" stroke="none" stroke-width="0"/>
<rect x="410.8" y="262.02" width="14.6" height="6" fill="none" stroke="#1c1c1c" stroke-width="1.15"/>
<text transform="translate(427.6 267.42) scale(0.8 1)" font-size="6.93" font-weight="bold" stroke="#1a1a1a" stroke-width="0.35">Vor 0.75</text>
<rect x="410.8" y="270.58" width="14.6" height="6" fill="#969696" stroke="none" stroke-width="0"/>
<path d="M410.8 273.59L413.4 276.58M411.44 270.58L416.66 276.58M414.7 270.58L419.92 276.58M417.96 270.58L423.18 276.58M421.22 270.58L425.4 275.38M424.48 270.58L425.4 271.63" fill="none" stroke="#5e5e5e" stroke-width="1"/>
<rect x="410.8" y="270.58" width="14.6" height="6" fill="none" stroke="#1c1c1c" stroke-width="1.15"/>
<text transform="translate(427.6 275.98) scale(0.8 1)" font-size="6.93" font-weight="bold" stroke="#1a1a1a" stroke-width="0.35">Vor 0.75 + CQ</text>
<rect x="410.8" y="279.14" width="14.6" height="6" fill="#3e3e3e" stroke="none" stroke-width="0"/>
<rect x="410.8" y="279.14" width="14.6" height="6" fill="none" stroke="#1c1c1c" stroke-width="1.15"/>
<text transform="translate(427.6 284.54) scale(0.8 1)" font-size="6.93" font-weight="bold" stroke="#1a1a1a" stroke-width="0.35">Vor 1.0</text>
<rect x="410.8" y="287.7" width="14.6" height="6" fill="#444444" stroke="none" stroke-width="0"/>
<path d="M410.8 292.32L412 293.7M410.8 288.57L415.26 293.7M413.3 287.7L418.52 293.7M416.56 287.7L421.78 293.7M419.82 287.7L425.04 293.7M423.08 287.7L425.4 290.37" fill="none" stroke="#262626" stroke-width="1"/>
<rect x="410.8" y="287.7" width="14.6" height="6" fill="none" stroke="#1c1c1c" stroke-width="1.15"/>
<text transform="translate(427.6 293.1) scale(0.8 1)" font-size="6.93" font-weight="bold" stroke="#1a1a1a" stroke-width="0.35">Vor 1.0 + CQ</text>
<text transform="translate(0 381.4) scale(1.08 1)" font-size="10.1" font-weight="bold" stroke="#111" stroke-width="0.9">E</text>
<line x1="63.7" y1="398.67" x2="63.7" y2="394.57" stroke="#777" stroke-width="0.7"/>
<line x1="62.3" y1="394.57" x2="65.1" y2="394.57" stroke="#777" stroke-width="0.7"/>
<rect x="59" y="398.67" width="9.4" height="90.33" fill="#050505" stroke="#050505" stroke-width="0.3"/>
<line x1="76.7" y1="410.23" x2="76.7" y2="405.93" stroke="#777" stroke-width="0.7"/>
<line x1="75.3" y1="405.93" x2="78.1" y2="405.93" stroke="#777" stroke-width="0.7"/>
<rect x="72" y="410.23" width="9.4" height="78.77" fill="#050505" stroke="#050505" stroke-width="0.3"/>
<line x1="89.9" y1="426.67" x2="89.9" y2="422.27" stroke="#777" stroke-width="0.7"/>
<line x1="88.5" y1="422.27" x2="91.3" y2="422.27" stroke="#777" stroke-width="0.7"/>
<rect x="85.2" y="426.67" width="9.4" height="62.33" fill="#050505" stroke="#050505" stroke-width="0.3"/>
<line x1="102.9" y1="460.64" x2="102.9" y2="456.34" stroke="#777" stroke-width="0.7"/>
<line x1="101.5" y1="456.34" x2="104.3" y2="456.34" stroke="#777" stroke-width="0.7"/>
<rect x="98.2" y="460.64" width="9.4" height="28.36" fill="#050505" stroke="#050505" stroke-width="0.3"/>
<line x1="56.2" y1="380.2" x2="56.2" y2="489.5" stroke="#222" stroke-width="1"/>
<line x1="55.7" y1="489" x2="110" y2="489" stroke="#222" stroke-width="1"/>
<line x1="54" y1="489" x2="56.2" y2="489" stroke="#222" stroke-width="0.9"/>
<text x="52.4" y="489.75" font-size="7.9" text-anchor="end" font-weight="normal" stroke="#1a1a1a" stroke-width="0.45">0</text>
<line x1="54" y1="470.93" x2="56.2" y2="470.93" stroke="#222" stroke-width="0.9"/>
<text x="52.4" y="473.68" font-size="7.9" text-anchor="end" font-weight="normal" stroke="#1a1a1a" stroke-width="0.45">20</text>
<line x1="54" y1="452.87" x2="56.2" y2="452.87" stroke="#222" stroke-width="0.9"/>
<text x="52.4" y="455.62" font-size="7.9" text-anchor="end" font-weight="normal" stroke="#1a1a1a" stroke-width="0.45">40</text>
<line x1="54" y1="434.8" x2="56.2" y2="434.8" stroke="#222" stroke-width="0.9"/>
<text x="52.4" y="437.55" font-size="7.9" text-anchor="end" font-weight="normal" stroke="#1a1a1a" stroke-width="0.45">60</text>
<line x1="54" y1="416.73" x2="56.2" y2="416.73" stroke="#222" stroke-width="0.9"/>
<text x="52.4" y="419.48" font-size="7.9" text-anchor="end" font-weight="normal" stroke="#1a1a1a" stroke-width="0.45">80</text>
<line x1="54" y1="398.67" x2="56.2" y2="398.67" stroke="#222" stroke-width="0.9"/>
<text x="52.4" y="401.42" font-size="7.9" text-anchor="end" font-weight="normal" stroke="#1a1a1a" stroke-width="0.45">100</text>
<line x1="54" y1="380.6" x2="56.2" y2="380.6" stroke="#222" stroke-width="0.9"/>
<text x="52.4" y="383.35" font-size="7.9" text-anchor="end" font-weight="normal" stroke="#1a1a1a" stroke-width="0.45">120</text>
<text x="57.7" y="498.2" font-size="7" text-anchor="start" font-weight="normal" textLength="10.2" lengthAdjust="spacingAndGlyphs" stroke="#1a1a1a" stroke-width="0.4">Ctrl</text>
<text x="70.85" y="498.2" font-size="7" text-anchor="start" font-weight="normal" textLength="11.3" lengthAdjust="spacingAndGlyphs" stroke="#1a1a1a" stroke-width="0.4">CQ</text>
<text x="84.3" y="498.2" font-size="7" text-anchor="start" font-weight="normal" textLength="10.2" lengthAdjust="spacingAndGlyphs" stroke="#1a1a1a" stroke-width="0.4">Ctrl</text>
<text x="97.75" y="498.2" font-size="7" text-anchor="start" font-weight="normal" textLength="11.3" lengthAdjust="spacingAndGlyphs" stroke="#1a1a1a" stroke-width="0.4">CQ</text>
<line x1="58.9" y1="501.4" x2="81.2" y2="501.4" stroke="#aaa" stroke-width="0.6"/>
<line x1="85.9" y1="501.4" x2="108.2" y2="501.4" stroke="#aaa" stroke-width="0.6"/>
<text x="70.2" y="511.4" font-size="8.9" text-anchor="middle" font-weight="normal" stroke="#1a1a1a" stroke-width="0.4">Ctrl</text>
<text x="97.6" y="511.4" font-size="8.9" text-anchor="middle" font-weight="normal" stroke="#1a1a1a" stroke-width="0.4">VPA</text>
<path d="M63 389.6 V386.7 H89.7 V389.6" fill="none" stroke="#888" stroke-width="0.7"/>
<text x="77" y="387.51" font-size="7" text-anchor="middle" font-weight="bold" stroke="#1a1a1a" stroke-width="0.5">*</text>
<path d="M89.5 416.2 V413.3 H103.2 V416.2" fill="none" stroke="#888" stroke-width="0.7"/>
<text x="96.2" y="413.71" font-size="7" text-anchor="middle" font-weight="bold" stroke="#1a1a1a" stroke-width="0.5">*</text>
<text transform="translate(22.8 433.9) rotate(-90) scale(1.19 1)" font-size="6.9" text-anchor="middle" stroke="#1a1a1a" stroke-width="0.42">Colony-forming cells</text>
<text transform="translate(32.7 433.9) rotate(-90) scale(1.2 1)" font-size="6.9" text-anchor="middle" stroke="#1a1a1a" stroke-width="0.42">(% of untreated control)</text>
<line x1="145.1" y1="398.67" x2="145.1" y2="398.17" stroke="#777" stroke-width="0.7"/>
<line x1="143.7" y1="398.17" x2="146.5" y2="398.17" stroke="#777" stroke-width="0.7"/>
<rect x="140.4" y="398.67" width="9.4" height="90.33" fill="#050505" stroke="#050505" stroke-width="0.3"/>
<line x1="158.4" y1="399.39" x2="158.4" y2="395.29" stroke="#777" stroke-width="0.7"/>
<line x1="157" y1="395.29" x2="159.8" y2="395.29" stroke="#777" stroke-width="0.7"/>
<rect x="153.7" y="399.39" width="9.4" height="89.61" fill="#050505" stroke="#050505" stroke-width="0.3"/>
<line x1="171.7" y1="418.18" x2="171.7" y2="413.28" stroke="#777" stroke-width="0.7"/>
<line x1="170.3" y1="413.28" x2="173.1" y2="413.28" stroke="#777" stroke-width="0.7"/>
<rect x="167" y="418.18" width="9.4" height="70.82" fill="#050505" stroke="#050505" stroke-width="0.3"/>
<line x1="184.9" y1="439.68" x2="184.9" y2="437.78" stroke="#777" stroke-width="0.7"/>
<line x1="183.5" y1="437.78" x2="186.3" y2="437.78" stroke="#777" stroke-width="0.7"/>
<rect x="180.2" y="439.68" width="9.4" height="49.32" fill="#050505" stroke="#050505" stroke-width="0.3"/>
<line x1="137.4" y1="380.2" x2="137.4" y2="489.5" stroke="#222" stroke-width="1"/>
<line x1="136.9" y1="489" x2="191.5" y2="489" stroke="#222" stroke-width="1"/>
<line x1="135.2" y1="489" x2="137.4" y2="489" stroke="#222" stroke-width="0.9"/>
<text x="134.6" y="489.75" font-size="7.9" text-anchor="end" font-weight="normal" stroke="#1a1a1a" stroke-width="0.45">0</text>
<line x1="135.2" y1="470.93" x2="137.4" y2="470.93" stroke="#222" stroke-width="0.9"/>
<text x="134.6" y="473.68" font-size="7.9" text-anchor="end" font-weight="normal" stroke="#1a1a1a" stroke-width="0.45">20</text>
<line x1="135.2" y1="452.87" x2="137.4" y2="452.87" stroke="#222" stroke-width="0.9"/>
<text x="134.6" y="455.62" font-size="7.9" text-anchor="end" font-weight="normal" stroke="#1a1a1a" stroke-width="0.45">40</text>
<line x1="135.2" y1="434.8" x2="137.4" y2="434.8" stroke="#222" stroke-width="0.9"/>
<text x="134.6" y="437.55" font-size="7.9" text-anchor="end" font-weight="normal" stroke="#1a1a1a" stroke-width="0.45">60</text>
<line x1="135.2" y1="416.73" x2="137.4" y2="416.73" stroke="#222" stroke-width="0.9"/>
<text x="134.6" y="419.48" font-size="7.9" text-anchor="end" font-weight="normal" stroke="#1a1a1a" stroke-width="0.45">80</text>
<line x1="135.2" y1="398.67" x2="137.4" y2="398.67" stroke="#222" stroke-width="0.9"/>
<text x="134.6" y="401.42" font-size="7.9" text-anchor="end" font-weight="normal" stroke="#1a1a1a" stroke-width="0.45">100</text>
<line x1="135.2" y1="380.6" x2="137.4" y2="380.6" stroke="#222" stroke-width="0.9"/>
<text x="134.6" y="383.35" font-size="7.9" text-anchor="end" font-weight="normal" stroke="#1a1a1a" stroke-width="0.45">120</text>
<text x="139.3" y="498.2" font-size="7" text-anchor="start" font-weight="normal" textLength="10.2" lengthAdjust="spacingAndGlyphs" stroke="#1a1a1a" stroke-width="0.4">Ctrl</text>
<text x="152.85" y="498.2" font-size="7" text-anchor="start" font-weight="normal" textLength="11.3" lengthAdjust="spacingAndGlyphs" stroke="#1a1a1a" stroke-width="0.4">CQ</text>
<text x="166.3" y="498.2" font-size="7" text-anchor="start" font-weight="normal" textLength="10.2" lengthAdjust="spacingAndGlyphs" stroke="#1a1a1a" stroke-width="0.4">Ctrl</text>
<text x="179.85" y="498.2" font-size="7" text-anchor="start" font-weight="normal" textLength="11.3" lengthAdjust="spacingAndGlyphs" stroke="#1a1a1a" stroke-width="0.4">CQ</text>
<line x1="140.7" y1="501.4" x2="163.2" y2="501.4" stroke="#aaa" stroke-width="0.6"/>
<line x1="167.6" y1="501.4" x2="189.7" y2="501.4" stroke="#aaa" stroke-width="0.6"/>
<text x="152.8" y="511.4" font-size="8.9" text-anchor="middle" font-weight="normal" stroke="#1a1a1a" stroke-width="0.4">Ctrl</text>
<text x="178.9" y="511.4" font-size="8.9" text-anchor="middle" font-weight="normal" stroke="#1a1a1a" stroke-width="0.4">Vor</text>
<path d="M144.9 391.5 V388.6 H171.7 V391.5" fill="none" stroke="#888" stroke-width="0.7"/>
<text x="158.6" y="389.61" font-size="7" text-anchor="middle" font-weight="bold" stroke="#1a1a1a" stroke-width="0.5">*</text>
<path d="M171.4 408.6 V405.7 H185.3 V408.6" fill="none" stroke="#888" stroke-width="0.7"/>
<text x="178.4" y="406.81" font-size="7" text-anchor="middle" font-weight="bold" stroke="#1a1a1a" stroke-width="0.5">*</text>
</g></svg></body></html>
